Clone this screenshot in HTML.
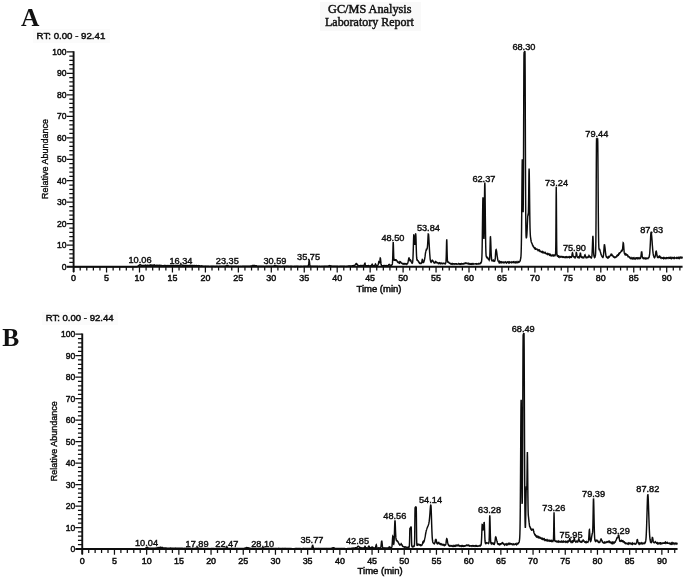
<!DOCTYPE html>
<html lang="en">
<head>
<meta charset="utf-8">
<title>GC/MS Analysis Laboratory Report</title>
<style>
html,body{margin:0;padding:0;background:#fff;}
body{width:685px;height:578px;overflow:hidden;}
svg{display:block;}
text.s{font-family:"Liberation Sans", Arial, sans-serif;fill:#0d0d0d;stroke:#0d0d0d;stroke-width:.38px;}
text.h{stroke-width:.45px;}
text.m{stroke-width:.36px;}
text.r{font-family:"Liberation Serif", "Times New Roman", serif;fill:#111;}
text.t{font-family:"Liberation Serif", "Times New Roman", serif;fill:#111;stroke:#111;stroke-width:.45px;}
</style>
</head>
<body>
<svg width="685" height="578" viewBox="0 0 685 578">
<rect x="0" y="0" width="685" height="578" fill="#fff"/>

<rect x="320" y="2" width="101" height="29" fill="#f9f9f9"/>
<rect x="33" y="29" width="77" height="14" fill="#fbfbfb"/>
<rect x="42" y="312" width="76" height="13" fill="#fbfbfb"/>
<text class="t" x="369.8" y="12.9" font-size="11.6" text-anchor="middle" textLength="83.4" lengthAdjust="spacingAndGlyphs">GC/MS Analysis</text>
<text class="t" x="369.4" y="25.7" font-size="11.6" text-anchor="middle" textLength="88.8" lengthAdjust="spacingAndGlyphs">Laboratory Report</text>
<text class="r" x="21.0" y="26.0" font-size="25.5" text-anchor="start" font-weight="bold" textLength="18.4" lengthAdjust="spacingAndGlyphs">A</text>
<text class="r" x="2.3" y="346.0" font-size="25.5" text-anchor="start" font-weight="bold" textLength="17.0" lengthAdjust="spacingAndGlyphs">B</text>
<path d="M73.60 51.20V271.90M67.00 266.70H682.58" stroke="#111" stroke-width="1.9" fill="none"/>
<path d="M66.70 266.70H73.60M69.30 262.40H73.60M69.30 258.10H73.60M69.30 253.81H73.60M69.30 249.51H73.60M66.70 245.21H73.60M69.30 240.91H73.60M69.30 236.61H73.60M69.30 232.32H73.60M69.30 228.02H73.60M66.70 223.72H73.60M69.30 219.42H73.60M69.30 215.12H73.60M69.30 210.83H73.60M69.30 206.53H73.60M66.70 202.23H73.60M69.30 197.93H73.60M69.30 193.63H73.60M69.30 189.34H73.60M69.30 185.04H73.60M66.70 180.74H73.60M69.30 176.44H73.60M69.30 172.14H73.60M69.30 167.85H73.60M69.30 163.55H73.60M66.70 159.25H73.60M69.30 154.95H73.60M69.30 150.65H73.60M69.30 146.36H73.60M69.30 142.06H73.60M66.70 137.76H73.60M69.30 133.46H73.60M69.30 129.16H73.60M69.30 124.87H73.60M69.30 120.57H73.60M66.70 116.27H73.60M69.30 111.97H73.60M69.30 107.67H73.60M69.30 103.38H73.60M69.30 99.08H73.60M66.70 94.78H73.60M69.30 90.48H73.60M69.30 86.18H73.60M69.30 81.89H73.60M69.30 77.59H73.60M66.70 73.29H73.60M69.30 68.99H73.60M69.30 64.69H73.60M69.30 60.40H73.60M69.30 56.10H73.60M66.70 51.80H73.60M73.60 266.70V272.50M80.19 266.70V270.60M86.78 266.70V270.60M93.37 266.70V270.60M99.96 266.70V270.60M106.55 266.70V272.50M113.14 266.70V270.60M119.73 266.70V270.60M126.32 266.70V270.60M132.91 266.70V270.60M139.50 266.70V272.50M146.09 266.70V270.60M152.68 266.70V270.60M159.27 266.70V270.60M165.86 266.70V270.60M172.45 266.70V272.50M179.04 266.70V270.60M185.63 266.70V270.60M192.22 266.70V270.60M198.81 266.70V270.60M205.40 266.70V272.50M211.99 266.70V270.60M218.58 266.70V270.60M225.17 266.70V270.60M231.76 266.70V270.60M238.35 266.70V272.50M244.94 266.70V270.60M251.53 266.70V270.60M258.12 266.70V270.60M264.71 266.70V270.60M271.30 266.70V272.50M277.89 266.70V270.60M284.48 266.70V270.60M291.07 266.70V270.60M297.66 266.70V270.60M304.25 266.70V272.50M310.84 266.70V270.60M317.43 266.70V270.60M324.02 266.70V270.60M330.61 266.70V270.60M337.20 266.70V272.50M343.79 266.70V270.60M350.38 266.70V270.60M356.97 266.70V270.60M363.56 266.70V270.60M370.15 266.70V272.50M376.74 266.70V270.60M383.33 266.70V270.60M389.92 266.70V270.60M396.51 266.70V270.60M403.10 266.70V272.50M409.69 266.70V270.60M416.28 266.70V270.60M422.87 266.70V270.60M429.46 266.70V270.60M436.05 266.70V272.50M442.64 266.70V270.60M449.23 266.70V270.60M455.82 266.70V270.60M462.41 266.70V270.60M469.00 266.70V272.50M475.59 266.70V270.60M482.18 266.70V270.60M488.77 266.70V270.60M495.36 266.70V270.60M501.95 266.70V272.50M508.54 266.70V270.60M515.13 266.70V270.60M521.72 266.70V270.60M528.31 266.70V270.60M534.90 266.70V272.50M541.49 266.70V270.60M548.08 266.70V270.60M554.67 266.70V270.60M561.26 266.70V270.60M567.85 266.70V272.50M574.44 266.70V270.60M581.03 266.70V270.60M587.62 266.70V270.60M594.21 266.70V270.60M600.80 266.70V272.50M607.39 266.70V270.60M613.98 266.70V270.60M620.57 266.70V270.60M627.16 266.70V270.60M633.75 266.70V272.50M640.34 266.70V270.60M646.93 266.70V270.60M653.52 266.70V270.60M660.11 266.70V270.60M666.70 266.70V272.50M673.29 266.70V270.60M679.88 266.70V270.60" stroke="#111" stroke-width="1.25" fill="none"/>
<text class="s h" x="66.5" y="269.7" font-size="8.3" text-anchor="end" textLength="4.8" lengthAdjust="spacingAndGlyphs">0</text>
<text class="s h" x="66.5" y="248.2" font-size="8.3" text-anchor="end" textLength="9.5" lengthAdjust="spacingAndGlyphs">10</text>
<text class="s h" x="66.5" y="226.7" font-size="8.3" text-anchor="end" textLength="9.5" lengthAdjust="spacingAndGlyphs">20</text>
<text class="s h" x="66.5" y="205.2" font-size="8.3" text-anchor="end" textLength="9.5" lengthAdjust="spacingAndGlyphs">30</text>
<text class="s h" x="66.5" y="183.7" font-size="8.3" text-anchor="end" textLength="9.5" lengthAdjust="spacingAndGlyphs">40</text>
<text class="s h" x="66.5" y="162.2" font-size="8.3" text-anchor="end" textLength="9.5" lengthAdjust="spacingAndGlyphs">50</text>
<text class="s h" x="66.5" y="140.8" font-size="8.3" text-anchor="end" textLength="9.5" lengthAdjust="spacingAndGlyphs">60</text>
<text class="s h" x="66.5" y="119.3" font-size="8.3" text-anchor="end" textLength="9.5" lengthAdjust="spacingAndGlyphs">70</text>
<text class="s h" x="66.5" y="97.8" font-size="8.3" text-anchor="end" textLength="9.5" lengthAdjust="spacingAndGlyphs">80</text>
<text class="s h" x="66.5" y="76.3" font-size="8.3" text-anchor="end" textLength="9.5" lengthAdjust="spacingAndGlyphs">90</text>
<text class="s h" x="66.5" y="54.8" font-size="8.3" text-anchor="end" textLength="14.2" lengthAdjust="spacingAndGlyphs">100</text>
<text class="s h" x="73.6" y="281.4" font-size="8.3" text-anchor="middle" textLength="5.0" lengthAdjust="spacingAndGlyphs">0</text>
<text class="s h" x="106.5" y="281.4" font-size="8.3" text-anchor="middle" textLength="5.0" lengthAdjust="spacingAndGlyphs">5</text>
<text class="s h" x="139.5" y="281.4" font-size="8.3" text-anchor="middle" textLength="9.9" lengthAdjust="spacingAndGlyphs">10</text>
<text class="s h" x="172.4" y="281.4" font-size="8.3" text-anchor="middle" textLength="9.9" lengthAdjust="spacingAndGlyphs">15</text>
<text class="s h" x="205.4" y="281.4" font-size="8.3" text-anchor="middle" textLength="9.9" lengthAdjust="spacingAndGlyphs">20</text>
<text class="s h" x="238.3" y="281.4" font-size="8.3" text-anchor="middle" textLength="9.9" lengthAdjust="spacingAndGlyphs">25</text>
<text class="s h" x="271.3" y="281.4" font-size="8.3" text-anchor="middle" textLength="9.9" lengthAdjust="spacingAndGlyphs">30</text>
<text class="s h" x="304.2" y="281.4" font-size="8.3" text-anchor="middle" textLength="9.9" lengthAdjust="spacingAndGlyphs">35</text>
<text class="s h" x="337.2" y="281.4" font-size="8.3" text-anchor="middle" textLength="9.9" lengthAdjust="spacingAndGlyphs">40</text>
<text class="s h" x="370.1" y="281.4" font-size="8.3" text-anchor="middle" textLength="9.9" lengthAdjust="spacingAndGlyphs">45</text>
<text class="s h" x="403.1" y="281.4" font-size="8.3" text-anchor="middle" textLength="9.9" lengthAdjust="spacingAndGlyphs">50</text>
<text class="s h" x="436.0" y="281.4" font-size="8.3" text-anchor="middle" textLength="9.9" lengthAdjust="spacingAndGlyphs">55</text>
<text class="s h" x="469.0" y="281.4" font-size="8.3" text-anchor="middle" textLength="9.9" lengthAdjust="spacingAndGlyphs">60</text>
<text class="s h" x="501.9" y="281.4" font-size="8.3" text-anchor="middle" textLength="9.9" lengthAdjust="spacingAndGlyphs">65</text>
<text class="s h" x="534.9" y="281.4" font-size="8.3" text-anchor="middle" textLength="9.9" lengthAdjust="spacingAndGlyphs">70</text>
<text class="s h" x="567.9" y="281.4" font-size="8.3" text-anchor="middle" textLength="9.9" lengthAdjust="spacingAndGlyphs">75</text>
<text class="s h" x="600.8" y="281.4" font-size="8.3" text-anchor="middle" textLength="9.9" lengthAdjust="spacingAndGlyphs">80</text>
<text class="s h" x="633.8" y="281.4" font-size="8.3" text-anchor="middle" textLength="9.9" lengthAdjust="spacingAndGlyphs">85</text>
<text class="s h" x="666.7" y="281.4" font-size="8.3" text-anchor="middle" textLength="9.9" lengthAdjust="spacingAndGlyphs">90</text>
<text class="s m" font-size="8.4" text-anchor="middle" textLength="80" lengthAdjust="spacingAndGlyphs" transform="translate(48.3 159.0) rotate(-90)">Relative Abundance</text>
<text class="s h" x="379.0" y="292.4" font-size="8.6" text-anchor="middle" textLength="45.0" lengthAdjust="spacingAndGlyphs">Time (min)</text>
<text class="s h" x="36.6" y="39.2" font-size="8.8" text-anchor="start" textLength="68.7" lengthAdjust="spacingAndGlyphs">RT: 0.00 - 92.41</text>
<path d="M73.60 266.70L75.18 266.70L76.76 266.70L78.34 266.70L79.93 266.70L81.51 266.70L83.09 266.70L84.67 266.70L86.25 266.70L87.83 266.70L89.42 266.70L91.00 266.70L92.58 266.70L94.16 266.70L95.74 266.70L97.32 266.70L98.91 266.70L100.49 266.70L102.07 266.70L103.65 266.70L105.23 266.70L106.81 266.70L108.40 266.70L109.98 266.70L111.56 266.70L113.14 266.70L114.72 266.70L116.30 266.70L117.88 266.70L119.47 266.70L121.05 266.70L122.63 266.70L124.21 266.70L125.79 266.70L127.37 266.70L128.96 266.70L130.54 266.70L132.12 266.70L133.70 266.69L135.28 266.69L136.86 266.68L137.13 266.56L137.39 266.43L137.65 266.29L138.05 266.11L138.18 266.00L138.31 265.84L138.45 265.79L138.58 265.60L138.97 265.45L139.10 265.37L139.24 265.08L139.37 264.87L139.76 264.82L139.90 264.69L140.29 264.67L140.42 264.88L140.55 264.97L140.69 265.10L140.95 265.15L141.08 265.29L141.35 265.30L141.48 265.46L141.74 265.31L142.79 265.45L143.32 265.39L143.45 265.55L145.04 265.46L145.30 265.30L145.43 265.45L145.69 265.38L145.83 265.51L146.35 265.52L146.49 265.37L146.88 265.31L147.01 265.43L147.41 265.23L148.86 265.42L149.52 265.24L150.31 265.10L150.57 265.21L150.70 265.06L151.63 265.24L151.76 265.25L151.89 265.09L152.55 265.23L154.00 265.11L154.13 265.23L154.53 265.31L154.66 265.12L154.92 265.30L155.71 265.43L155.84 265.30L156.37 265.17L156.63 265.36L157.69 265.31L157.82 265.47L158.08 265.61L158.48 265.69L158.61 265.56L158.74 265.43L158.87 265.52L159.01 265.39L159.53 265.30L159.67 265.49L160.06 265.41L160.19 265.55L161.64 265.42L162.30 265.61L163.88 265.68L164.15 265.56L165.07 265.43L165.73 265.59L165.99 265.67L166.12 265.53L166.52 265.69L167.71 265.73L167.84 265.57L169.02 265.69L169.15 265.75L169.29 265.61L169.55 265.76L169.68 265.59L171.00 265.46L171.40 265.58L172.98 265.73L173.24 265.59L173.90 265.67L174.03 265.53L174.43 265.71L174.69 265.76L174.82 265.61L175.22 265.43L175.75 265.57L176.14 265.41L176.54 265.56L176.80 265.43L177.06 265.48L177.19 265.61L178.78 265.50L179.04 265.64L179.57 265.62L179.70 265.45L179.83 265.35L179.96 265.20L180.23 265.03L180.49 265.20L181.02 265.06L181.81 264.97L181.94 265.11L182.20 265.17L182.33 265.36L182.86 265.52L183.13 265.65L183.52 265.46L183.78 265.41L183.92 265.60L184.18 265.77L185.76 265.75L186.16 265.55L186.55 265.72L186.82 265.58L187.48 265.73L187.87 265.61L189.19 265.77L189.45 265.57L190.37 265.56L190.51 265.68L191.30 265.52L191.43 265.55L191.56 265.71L192.35 265.58L192.48 265.71L193.14 265.53L193.41 265.68L194.46 265.55L194.72 265.68L195.12 265.81L195.25 265.66L195.51 265.79L196.17 265.62L196.44 265.58L196.57 265.73L196.70 265.76L196.83 265.64L197.10 265.78L197.76 265.83L197.89 265.68L198.28 265.74L198.41 265.62L198.94 265.82L199.60 265.69L199.73 265.83L200.79 265.96L201.97 265.83L202.10 265.96L202.90 266.16L204.48 266.14L205.14 266.27L205.53 266.41L205.66 266.29L207.25 266.30L208.83 266.18L209.49 266.35L210.94 266.18L211.46 266.34L212.39 266.22L213.97 266.33L215.55 266.43L215.81 266.28L217.39 266.24L218.18 266.40L219.50 266.27L221.08 266.34L222.67 266.28L224.25 266.30L225.17 266.17L225.43 266.04L226.22 266.03L226.36 265.87L226.49 265.88L226.62 265.75L226.75 265.62L226.88 265.71L227.02 265.58L227.41 265.70L228.07 265.61L228.20 265.78L228.60 265.97L229.12 266.10L229.39 266.23L230.97 266.27L232.55 266.25L234.13 266.25L235.71 266.32L236.24 266.18L236.77 266.35L238.35 266.34L239.93 266.38L240.46 266.22L240.85 266.36L242.44 266.29L244.02 266.22L245.60 266.27L247.18 266.20L248.76 266.19L250.34 266.22L250.48 266.09L250.74 266.05L250.87 265.92L252.19 265.78L252.32 265.62L252.45 265.69L252.58 265.57L253.11 265.44L254.69 265.42L254.96 265.60L256.41 265.74L256.67 265.93L257.72 266.10L258.78 266.23L260.36 266.28L261.94 266.29L263.52 266.27L265.11 266.35L265.50 266.20L265.90 266.33L267.48 266.27L269.06 266.33L270.64 266.26L272.22 266.19L273.54 266.12L273.67 266.00L273.94 266.07L274.07 265.91L274.33 265.89L274.46 265.74L274.73 265.84L274.86 265.69L275.12 265.78L275.25 265.66L275.78 265.82L276.31 265.96L277.10 266.04L277.23 266.18L277.63 266.33L277.89 266.18L278.42 266.30L280.00 266.29L281.58 266.40L282.50 266.28L284.08 266.31L285.67 266.26L286.19 266.38L286.59 266.23L286.85 266.16L286.98 266.29L288.57 266.25L288.83 266.39L290.02 266.26L291.60 266.29L293.18 266.37L294.37 266.24L294.63 266.37L295.29 266.22L295.68 266.38L296.21 266.25L297.79 266.31L299.37 266.40L300.30 266.25L300.95 266.39L301.88 266.24L302.27 266.37L303.85 266.29L305.44 266.33L306.23 266.17L307.02 266.33L307.81 266.16L308.07 266.02L308.20 265.84L308.34 265.71L308.47 265.29L308.60 264.60L308.73 263.66L308.86 262.46L308.99 261.27L309.13 260.62L309.26 260.48L309.39 261.14L309.52 262.35L309.65 263.49L309.79 264.39L309.92 265.08L310.05 265.65L310.18 265.97L310.31 266.09L310.44 266.21L312.03 266.15L312.95 266.31L314.53 266.30L316.11 266.31L317.69 266.23L318.88 266.35L319.41 266.23L320.86 266.35L322.17 266.23L322.83 266.36L323.89 266.22L324.68 266.18L324.81 266.30L326.39 266.28L327.97 266.24L328.11 266.12L328.76 266.02L328.90 265.88L329.03 265.94L329.16 265.80L329.42 265.67L329.69 265.79L331.27 265.92L331.40 266.01L331.53 266.14L332.06 266.29L332.59 266.15L333.25 266.32L333.64 266.19L334.04 266.33L335.49 266.18L336.15 266.32L337.73 266.24L338.52 266.36L340.10 266.30L341.68 266.30L343.26 266.30L344.84 266.24L345.77 266.37L346.29 266.22L346.56 266.37L347.35 266.24L348.80 266.08L349.19 266.19L349.33 266.06L350.64 265.87L352.23 265.69L352.36 265.82L352.49 265.85L352.62 265.71L353.41 265.78L353.54 265.63L353.67 265.64L353.81 265.51L354.33 265.51L354.47 265.33L354.86 265.27L354.99 264.96L355.26 264.78L355.39 264.62L355.52 264.43L355.65 264.31L355.78 264.01L356.05 263.96L356.18 263.77L356.31 263.91L356.44 264.05L356.57 263.92L356.71 264.08L356.97 264.07L357.10 264.33L357.23 264.54L357.37 264.80L357.50 264.77L357.63 264.93L357.76 265.09L357.89 265.27L358.16 265.32L358.29 265.49L358.95 265.62L360.00 265.75L360.26 265.62L360.53 265.73L360.66 265.61L360.92 265.74L361.06 265.61L361.32 265.57L361.45 265.71L362.11 265.58L362.24 265.72L363.16 265.56L364.09 265.45L364.22 265.23L364.35 264.94L364.48 264.52L364.61 263.72L364.75 263.31L365.01 263.19L365.14 263.74L365.27 264.30L365.41 264.91L365.54 265.36L365.67 265.57L366.46 265.70L366.86 265.82L367.65 265.79L367.78 265.66L368.57 265.61L368.70 265.73L368.96 265.86L369.10 265.81L369.23 265.68L369.89 265.84L370.68 265.63L371.34 265.54L371.47 265.41L371.60 265.16L371.73 264.81L371.86 264.55L372.00 264.21L372.26 264.10L372.39 264.43L372.52 264.83L372.65 265.20L372.79 265.47L372.92 265.63L374.50 265.66L374.63 265.57L374.76 265.29L374.89 265.01L375.03 264.73L375.16 264.43L375.29 264.14L375.42 263.99L375.55 264.29L375.69 264.36L375.82 264.71L375.95 265.06L376.08 265.16L376.21 265.31L376.34 265.50L376.48 265.68L377.27 265.66L377.40 265.53L377.66 265.43L377.79 265.19L377.93 265.02L378.06 264.86L378.19 264.52L378.32 264.18L378.45 263.58L378.59 262.75L378.72 262.00L378.85 261.60L379.11 261.73L379.24 261.96L379.38 262.14L379.51 262.12L379.64 262.28L379.77 261.74L379.90 260.89L380.03 259.67L380.17 258.46L380.30 257.98L380.43 258.08L380.56 259.15L380.69 260.51L380.83 261.89L380.96 263.41L381.09 264.27L381.22 264.87L381.35 265.30L381.48 265.51L381.88 265.66L383.33 265.73L383.46 265.60L383.59 265.53L383.73 265.67L384.78 265.52L385.70 265.72L386.36 265.56L386.89 265.69L388.07 265.50L388.21 265.53L388.34 265.31L388.47 265.22L388.60 265.09L388.73 264.85L388.87 264.68L389.26 264.51L389.39 264.69L389.66 264.75L389.79 265.02L389.92 265.24L390.05 265.22L390.18 265.38L390.71 265.53L390.84 265.47L390.97 265.61L391.11 265.49L391.24 265.53L391.37 265.38L391.50 265.33L391.63 265.13L391.77 265.05L391.90 264.87L392.03 264.76L392.16 264.40L392.29 263.96L392.42 263.40L392.56 261.77L392.69 258.82L392.82 254.80L392.95 249.65L393.08 244.52L393.22 242.15L393.35 244.12L393.48 248.26L393.61 252.88L393.74 256.92L393.87 259.03L394.01 260.22L394.27 260.35L394.53 260.31L394.66 260.01L394.80 259.79L394.93 259.88L395.06 260.06L395.32 260.17L395.46 259.81L395.85 259.79L395.98 260.23L396.11 260.40L396.51 260.27L396.64 260.40L396.77 260.59L396.91 260.73L397.04 260.78L397.17 261.14L397.30 261.62L397.43 261.81L397.56 262.13L397.83 262.15L397.96 262.32L398.09 262.46L398.22 262.66L398.62 262.54L398.75 262.33L398.88 262.65L399.01 262.74L399.15 262.87L399.28 262.48L399.54 262.25L399.67 262.06L399.80 262.35L399.94 262.01L400.33 262.05L400.46 261.92L400.60 262.13L400.73 262.32L400.86 262.51L400.99 262.43L401.12 262.59L401.25 262.90L401.39 263.04L401.52 263.08L401.65 263.24L402.18 263.31L402.31 263.54L402.57 263.39L402.70 263.53L402.84 263.81L402.97 263.96L403.10 263.79L403.23 263.65L403.63 263.74L403.76 263.94L403.89 263.87L404.02 263.67L404.15 263.87L404.42 263.72L404.55 263.74L404.68 263.87L404.81 263.99L404.95 263.88L405.08 263.74L405.21 263.68L405.34 263.83L405.60 263.74L405.74 263.88L406.00 263.93L406.13 264.06L406.26 264.22L406.39 264.04L406.53 263.91L406.66 264.09L407.05 264.10L407.19 263.84L407.32 263.84L407.45 263.60L407.58 263.34L407.71 263.13L407.84 262.55L407.98 262.17L408.11 261.63L408.24 260.92L408.37 260.34L408.50 259.84L408.64 258.88L408.77 258.27L408.90 257.98L409.16 257.95L409.29 258.39L409.43 259.02L409.56 259.27L409.69 259.45L409.82 260.11L409.95 260.05L410.09 260.34L410.22 260.10L410.35 260.04L410.48 260.26L410.61 260.46L410.74 260.32L410.88 260.36L411.01 260.69L411.14 261.20L411.27 261.71L411.40 262.02L411.54 262.30L411.67 262.47L411.80 262.89L412.19 262.87L412.33 263.08L412.46 262.96L412.59 262.33L412.72 261.49L412.85 259.79L412.99 257.55L413.12 254.34L413.25 250.58L413.38 245.92L413.51 241.21L413.64 237.26L413.78 235.00L413.91 235.05L414.04 236.41L414.17 238.31L414.30 240.87L414.43 242.86L414.57 244.06L414.70 244.30L414.83 244.31L414.96 243.49L415.09 242.06L415.23 240.06L415.36 238.09L415.49 235.65L415.62 234.01L415.75 234.07L415.88 235.97L416.02 239.56L416.15 244.10L416.28 248.48L416.41 252.50L416.54 255.81L416.68 257.96L416.81 258.91L416.94 259.74L417.07 260.08L417.47 259.97L417.60 260.14L417.73 260.27L417.86 260.65L417.99 260.94L418.13 261.18L418.39 261.31L418.52 261.73L418.65 261.75L418.78 262.13L418.92 262.29L419.05 262.65L419.18 262.68L419.31 262.93L419.44 262.73L419.57 262.94L419.71 262.88L419.84 263.05L419.97 263.29L420.10 263.21L420.23 263.41L420.50 263.39L420.63 263.21L420.76 263.23L420.89 263.51L421.02 263.50L421.16 263.25L421.29 263.08L421.55 263.04L421.68 262.70L421.82 261.87L421.95 261.31L422.08 260.25L422.21 259.81L422.34 259.43L422.47 259.54L422.61 260.30L422.74 260.98L422.87 261.57L423.00 262.24L423.13 262.50L423.27 262.49L423.40 262.26L423.66 262.37L423.79 262.05L423.92 261.65L424.06 261.28L424.19 260.61L424.32 260.37L424.45 259.79L424.58 259.16L424.72 258.62L424.85 257.81L424.98 256.96L425.11 256.13L425.24 255.03L425.37 253.89L425.51 252.86L425.64 252.33L425.77 251.64L425.90 250.65L426.03 250.35L426.16 250.02L426.30 249.77L426.43 249.11L426.69 249.04L426.82 249.30L426.96 249.01L427.09 248.65L427.22 248.29L427.35 247.40L427.48 246.24L427.61 244.63L427.75 242.50L427.88 239.92L428.01 237.40L428.14 235.15L428.27 233.97L428.41 234.00L428.54 234.49L428.67 235.67L428.80 237.39L428.93 239.74L429.06 242.17L429.20 244.62L429.33 246.95L429.46 249.51L429.59 251.73L429.72 253.72L429.86 255.32L429.99 257.01L430.12 258.58L430.25 259.57L430.38 260.10L430.51 260.95L430.65 261.30L430.78 261.83L430.91 262.09L431.04 262.02L431.17 262.23L431.31 262.08L431.44 261.81L431.57 261.65L431.70 261.23L431.83 260.80L431.96 260.76L432.10 260.40L432.23 260.14L432.49 260.14L432.62 260.29L432.75 260.41L432.89 260.65L433.02 261.18L433.15 261.40L433.28 261.62L433.41 261.97L433.55 262.01L433.68 262.40L433.81 262.54L434.07 262.67L434.20 262.91L434.34 262.80L434.47 263.00L434.73 262.83L434.86 262.63L435.00 262.38L435.13 262.10L435.26 262.27L435.39 261.95L435.65 261.87L435.79 262.06L435.92 261.71L436.05 261.87L436.18 261.99L436.31 262.10L436.45 262.28L436.58 262.42L436.71 262.57L436.84 262.64L436.97 262.79L437.24 262.62L437.37 262.59L437.50 262.86L437.90 262.89L438.03 263.05L438.16 263.27L438.29 263.14L438.42 263.10L438.55 263.23L438.69 263.16L438.82 263.40L438.95 263.22L439.08 263.07L439.21 262.94L439.35 263.26L439.61 263.12L439.74 263.36L439.87 263.30L440.00 263.45L440.14 263.54L440.27 263.67L440.40 263.65L440.53 263.38L440.79 263.23L440.93 263.09L441.06 263.37L441.19 263.23L441.45 263.19L441.59 263.36L441.72 263.53L442.11 263.62L442.24 263.49L442.38 263.43L442.51 263.56L442.77 263.61L442.90 263.48L443.30 263.29L443.43 263.28L443.56 263.41L443.83 263.32L443.96 263.46L444.09 263.62L444.22 263.62L444.35 263.48L444.49 263.37L444.62 263.50L444.75 263.47L444.88 263.64L445.01 263.50L445.14 263.47L445.28 263.30L445.41 263.12L445.54 263.32L445.67 262.95L445.80 262.88L445.93 261.92L446.07 260.20L446.20 257.57L446.33 253.03L446.46 247.35L446.59 241.76L446.73 239.40L446.86 241.30L446.99 246.39L447.12 252.32L447.25 256.77L447.38 259.76L447.52 261.29L447.65 261.89L447.78 261.94L447.91 262.14L448.31 261.99L448.44 262.13L448.57 262.28L448.70 262.34L448.83 262.48L448.97 262.47L449.10 262.83L449.23 263.05L449.36 263.29L450.15 263.25L450.28 263.51L450.42 263.71L450.55 263.72L450.68 263.85L450.81 263.80L450.94 263.98L451.08 263.96L451.21 263.83L451.47 264.05L451.60 263.88L451.73 263.99L451.87 263.79L452.13 263.67L452.39 263.80L452.52 263.93L452.66 264.08L452.79 263.83L452.92 263.96L453.05 264.09L453.18 263.84L453.45 263.83L453.58 263.69L453.71 263.68L453.84 263.85L454.24 263.80L454.37 263.95L454.63 263.96L454.77 264.11L454.90 263.90L455.03 263.83L455.16 263.99L455.42 263.87L455.56 264.04L455.69 264.01L455.82 263.85L456.08 263.80L456.22 263.94L456.35 263.73L456.61 263.77L456.74 264.01L456.87 264.02L457.01 264.16L457.93 264.04L458.19 264.01L458.32 263.79L458.59 263.62L458.72 263.88L458.85 263.83L458.98 263.95L459.12 263.76L459.51 263.71L459.64 263.92L459.77 264.07L459.91 263.88L460.17 263.84L460.30 264.04L460.43 264.17L460.56 263.94L461.09 263.73L461.22 263.99L461.36 263.85L461.49 263.68L461.75 263.57L461.88 263.72L462.01 263.74L462.15 263.94L462.28 263.80L462.54 263.84L462.67 264.02L462.94 264.02L463.07 263.77L463.20 263.80L463.33 263.65L463.46 263.82L463.86 263.92L463.99 263.70L464.26 263.74L464.39 263.59L464.52 263.58L464.65 263.37L464.91 263.18L465.18 263.32L465.31 263.31L465.44 263.05L465.57 262.89L465.84 263.02L465.97 263.25L466.10 263.02L466.36 263.08L466.50 263.24L466.76 263.09L466.89 263.24L467.29 263.32L467.42 263.56L467.55 263.69L467.68 263.65L467.81 263.50L467.95 263.57L468.08 263.78L468.34 263.88L468.47 263.69L468.60 263.82L468.74 263.59L468.87 263.75L469.00 263.89L469.13 264.05L469.40 263.90L469.53 263.77L469.79 263.77L469.92 263.98L470.05 263.77L470.19 263.91L470.45 264.08L470.71 263.87L470.98 264.02L471.11 264.16L471.24 264.01L471.37 263.88L471.50 264.03L471.64 264.08L471.77 263.90L471.90 263.82L472.03 263.99L472.16 263.76L472.43 263.71L472.56 263.85L472.69 263.69L472.95 263.78L473.09 263.64L473.22 263.61L473.35 263.85L473.48 264.01L473.74 264.15L473.88 263.90L474.80 263.89L474.93 263.75L475.19 263.62L475.33 263.63L475.46 263.87L475.59 263.91L475.72 263.77L475.99 263.86L476.12 263.99L476.25 263.82L476.51 263.95L476.64 263.80L476.78 263.99L476.91 264.14L477.17 264.02L477.44 264.06L477.57 263.89L477.70 263.73L477.96 263.61L478.09 263.89L478.49 263.95L478.62 263.74L478.75 263.81L478.88 263.65L479.68 263.85L479.81 263.73L480.07 263.69L480.20 263.42L480.33 263.07L480.47 263.08L480.60 263.24L480.73 262.94L480.99 263.00L481.13 262.61L481.26 262.18L481.39 262.07L481.52 261.51L481.65 260.37L481.78 258.84L481.92 256.29L482.05 252.25L482.18 246.28L482.31 237.70L482.44 227.61L482.58 217.20L482.71 207.21L482.84 200.22L482.97 197.25L483.10 199.71L483.23 206.27L483.37 215.44L483.50 225.17L483.63 232.96L483.76 237.73L483.89 238.99L484.03 235.90L484.16 228.58L484.29 217.88L484.42 205.55L484.55 194.20L484.68 185.61L484.82 182.43L484.95 185.69L485.08 194.09L485.21 205.49L485.34 218.11L485.48 229.76L485.61 239.20L485.74 246.52L485.87 251.23L486.00 254.07L486.13 255.62L486.27 256.33L486.40 256.88L486.53 257.04L486.66 257.15L486.79 257.47L486.92 257.32L487.06 257.19L487.19 257.37L487.32 257.56L487.45 257.94L487.58 258.08L487.72 258.26L487.85 258.49L487.98 258.30L488.11 258.58L488.24 258.90L488.37 258.90L488.51 259.33L488.64 259.46L488.90 259.39L489.03 259.67L489.17 260.00L489.30 259.66L489.43 260.01L489.56 259.43L489.69 258.04L489.82 255.16L489.96 251.19L490.09 245.96L490.22 240.59L490.35 237.05L490.48 236.98L490.62 238.45L490.75 241.57L490.88 245.24L491.01 249.29L491.14 252.67L491.27 255.29L491.41 257.68L491.54 258.88L491.67 260.02L491.80 260.43L491.93 260.50L492.06 260.76L492.20 260.60L492.33 260.75L492.46 260.78L492.59 260.48L492.72 260.45L492.86 260.71L492.99 260.79L493.12 260.61L493.25 260.62L493.38 260.79L493.51 260.49L493.65 260.62L493.78 260.41L493.91 260.63L494.04 260.91L494.17 260.98L494.31 260.83L494.44 260.71L494.57 260.79L494.70 260.92L494.83 260.63L494.96 260.27L495.10 259.47L495.23 258.56L495.36 257.13L495.49 254.86L495.62 252.77L495.76 251.23L495.89 249.91L496.02 249.74L496.15 249.60L496.28 249.91L496.41 250.38L496.55 251.22L496.68 252.13L496.81 252.89L496.94 254.05L497.07 255.28L497.21 256.37L497.34 256.91L497.47 257.90L497.60 258.87L497.73 259.39L497.86 260.12L498.00 260.54L498.13 260.71L498.26 261.21L498.39 261.46L498.79 261.44L498.92 261.95L499.05 261.75L499.18 261.86L499.31 262.17L499.45 261.89L499.58 262.22L499.71 261.94L499.84 262.30L499.97 262.50L500.10 262.40L500.24 262.27L500.37 262.21L500.50 262.05L500.63 262.34L500.76 262.18L500.90 262.31L501.03 262.04L501.29 262.04L501.42 262.34L501.55 262.09L501.69 262.28L501.82 262.44L501.95 262.42L502.08 262.22L502.21 262.34L502.48 262.27L502.61 262.42L502.74 262.58L502.87 262.52L503.00 262.32L503.14 262.22L503.27 262.41L503.40 262.28L503.53 262.11L503.66 262.08L503.80 262.35L503.93 262.58L504.06 262.22L504.19 262.15L504.32 262.34L504.45 262.20L504.72 262.18L504.85 262.32L505.38 262.46L505.51 262.31L505.64 262.13L505.77 262.33L505.90 262.57L506.04 262.62L506.17 262.37L506.30 262.44L506.43 262.67L506.56 262.36L506.69 262.39L506.83 262.61L506.96 262.37L507.09 262.36L507.22 262.17L507.49 262.00L507.62 261.93L507.75 262.16L508.14 262.18L508.28 262.40L508.41 262.31L508.54 262.56L508.67 262.28L508.80 262.48L508.94 262.39L509.07 262.19L509.33 262.00L509.46 262.18L509.59 262.48L509.73 262.16L509.86 262.34L509.99 262.15L510.12 262.28L510.52 262.30L510.65 262.17L510.78 262.19L510.91 262.43L511.04 262.38L511.18 262.58L511.31 262.29L511.44 262.49L511.84 262.45L511.97 262.19L512.10 262.09L512.23 262.28L512.36 262.34L512.49 262.21L512.76 262.21L512.89 262.35L513.15 262.27L513.28 262.08L513.42 262.26L513.55 262.12L513.68 262.36L513.94 262.55L514.08 262.23L514.21 262.49L514.47 262.47L514.60 262.30L514.73 262.22L514.87 262.47L515.00 262.47L515.13 262.29L515.26 262.50L515.39 262.63L515.53 262.33L515.66 262.60L515.92 262.72L516.05 262.38L516.45 262.36L516.58 262.13L516.71 262.45L516.98 262.52L517.11 262.36L517.24 262.54L517.50 262.38L517.63 262.58L517.90 262.49L518.03 262.08L518.16 262.33L518.29 262.39L518.42 262.17L518.56 262.23L518.69 262.07L518.82 262.09L518.95 261.73L519.22 261.84L519.35 261.98L519.48 261.88L519.61 261.62L519.74 261.48L519.87 261.20L520.01 261.04L520.14 260.59L520.27 260.50L520.40 259.75L520.53 259.14L520.67 258.58L520.80 257.99L520.93 256.72L521.06 254.72L521.19 251.46L521.32 246.11L521.46 237.94L521.59 227.04L521.72 213.23L521.85 197.35L521.98 181.68L522.12 168.34L522.25 159.93L522.38 159.38L522.51 165.71L522.64 177.65L522.77 191.32L522.91 203.53L523.04 211.39L523.17 211.40L523.30 201.51L523.43 180.65L523.57 149.37L523.70 111.75L523.83 76.93L523.96 55.48L524.09 52.75L524.22 52.75L524.36 52.22L524.49 51.76L524.62 51.47L524.75 51.21L524.88 50.94L525.01 53.50L525.15 74.75L525.28 109.48L525.41 147.72L525.54 181.43L525.67 206.48L525.81 222.47L525.94 231.28L526.07 235.92L526.20 237.48L526.33 237.83L526.46 237.76L526.60 237.24L526.73 235.87L526.86 234.75L526.99 232.79L527.12 230.25L527.26 226.82L527.39 223.56L527.52 220.62L527.65 217.96L527.78 216.05L527.91 215.27L528.05 215.50L528.18 215.33L528.31 214.25L528.44 210.93L528.57 203.98L528.71 194.08L528.84 182.29L528.97 172.20L529.10 168.63L529.23 171.84L529.36 179.84L529.50 190.82L529.63 202.04L529.76 212.88L529.89 221.35L530.02 227.69L530.16 231.73L530.29 234.42L530.42 236.32L530.55 237.28L530.68 238.20L530.81 239.15L530.95 240.26L531.08 240.87L531.21 241.74L531.34 242.05L531.47 242.34L531.61 242.85L531.74 242.99L531.87 243.27L532.00 243.67L532.13 243.78L532.26 244.21L532.40 244.68L532.53 245.12L532.66 245.17L532.79 245.49L532.92 245.85L533.05 246.24L533.19 246.21L533.32 246.68L533.58 246.71L533.71 246.88L533.85 247.42L533.98 247.43L534.11 247.72L534.24 247.86L534.37 247.83L534.50 248.17L534.64 248.37L534.77 248.22L534.90 248.49L535.03 248.79L535.16 249.03L535.30 248.91L535.43 249.00L535.56 248.72L535.69 249.11L535.82 249.14L535.95 249.02L536.61 248.88L536.75 248.93L536.88 249.13L537.01 249.38L537.14 249.49L537.27 249.76L537.40 249.92L537.80 250.04L537.93 250.29L538.06 249.96L538.19 250.15L538.33 250.21L538.46 250.34L538.72 250.23L538.85 250.10L538.99 250.24L539.12 250.16L539.25 250.45L539.38 250.60L539.51 250.79L539.64 250.57L539.78 250.94L539.91 251.13L540.04 250.97L540.17 251.19L540.30 251.45L540.70 251.45L540.83 251.61L541.09 251.76L541.23 251.91L541.36 251.83L541.49 251.97L541.62 252.08L541.75 251.75L541.89 251.60L542.02 251.81L542.15 251.87L542.28 252.17L542.41 252.41L542.54 252.30L542.68 252.00L542.81 252.33L542.94 252.34L543.07 252.17L543.20 252.53L543.34 252.44L543.47 252.58L543.60 252.41L543.73 252.29L543.99 252.23L544.13 252.65L544.39 252.65L544.52 252.84L544.65 253.03L545.05 253.09L545.18 252.83L545.31 253.10L545.44 252.93L545.58 253.24L546.10 253.38L546.23 253.61L546.50 253.70L546.63 253.83L546.76 253.56L547.16 253.51L547.29 253.83L547.42 254.12L547.55 254.27L547.68 253.93L547.82 253.97L547.95 253.74L548.08 253.98L548.21 254.11L548.34 254.06L548.48 253.94L548.61 254.12L548.74 254.22L548.87 254.36L549.00 254.54L549.13 254.29L549.27 254.15L549.40 254.36L549.53 254.66L549.66 254.46L549.79 254.58L549.93 254.51L550.06 254.67L550.19 254.98L550.32 254.81L550.45 255.08L550.58 254.80L550.72 255.08L550.85 255.17L550.98 255.43L551.11 255.49L551.24 255.30L551.38 255.52L551.64 255.73L551.77 255.83L551.90 255.62L552.03 255.67L552.17 255.41L552.43 255.34L552.56 255.14L552.69 255.01L552.82 255.30L553.09 255.24L553.22 255.54L553.35 255.39L553.48 255.74L553.62 255.59L553.75 255.38L554.01 255.41L554.14 255.28L554.27 255.43L554.41 255.68L554.67 255.69L554.80 255.41L554.93 255.17L555.07 254.94L555.20 255.09L555.33 254.77L555.46 254.34L555.59 253.74L555.72 250.18L555.86 240.62L555.99 221.74L556.12 198.47L556.25 186.84L556.38 198.46L556.52 221.68L556.65 240.68L556.78 250.43L556.91 254.19L557.04 255.35L557.17 255.87L557.31 255.99L557.44 255.71L557.57 256.02L557.97 255.82L558.10 255.82L558.23 256.24L558.36 256.52L558.49 256.31L558.76 256.18L558.89 256.58L559.02 256.38L559.15 256.51L559.28 256.38L559.41 256.43L559.55 256.60L559.68 256.61L559.81 256.90L559.94 256.58L560.07 256.43L560.47 256.50L560.60 256.66L560.73 256.88L560.86 256.79L561.00 256.56L561.26 256.50L561.39 256.85L561.52 256.98L561.79 256.98L561.92 256.73L562.31 256.88L562.45 257.09L562.58 257.16L562.71 256.81L562.84 256.64L563.11 256.69L563.24 256.95L563.37 257.23L563.50 257.39L563.76 257.46L563.90 257.00L564.03 256.95L564.16 257.13L564.29 257.30L564.42 257.45L565.08 257.43L565.21 257.20L565.35 257.34L565.48 257.42L565.61 257.12L565.74 257.21L565.87 257.07L566.00 257.18L566.14 257.02L566.27 257.31L566.40 257.34L566.53 257.03L566.66 257.16L566.80 257.05L566.93 257.22L567.06 257.39L567.32 257.24L567.45 257.44L567.59 257.29L567.85 257.28L567.98 257.06L568.11 256.87L568.25 257.02L568.38 257.17L568.51 257.00L568.90 256.98L569.04 257.13L569.17 257.00L569.30 257.01L569.43 256.86L569.56 257.08L569.70 257.35L569.83 257.06L569.96 257.05L570.09 256.92L570.35 256.83L570.49 257.03L570.62 256.87L570.75 256.91L570.88 257.05L571.01 257.26L571.14 257.42L571.41 257.30L571.54 257.11L571.67 256.64L571.80 255.87L571.94 255.23L572.07 254.36L572.20 253.84L572.33 252.99L572.46 252.71L572.59 252.83L572.73 253.67L572.86 254.46L572.99 255.34L573.12 255.90L573.25 256.50L573.39 256.65L573.52 256.70L573.65 256.90L573.78 257.04L574.04 257.08L574.18 256.88L574.31 256.77L574.44 256.96L574.57 256.96L574.70 257.29L574.84 257.04L574.97 257.04L575.10 257.36L575.23 257.53L575.36 257.10L575.49 256.76L575.63 256.43L575.76 256.01L575.89 255.41L576.02 254.43L576.15 253.22L576.29 252.47L576.42 252.51L576.55 252.91L576.68 253.80L576.81 254.40L576.94 255.14L577.08 255.74L577.21 256.46L577.34 256.96L577.47 257.39L577.60 257.52L578.00 257.54L578.13 257.34L578.26 257.14L578.39 257.30L578.53 257.14L578.66 257.34L578.79 257.48L578.92 257.25L579.05 257.51L579.18 257.64L579.32 257.15L579.45 257.04L579.58 256.81L579.71 256.16L579.84 255.31L579.98 254.66L580.11 253.68L580.24 253.30L580.37 252.80L580.50 253.19L580.63 253.96L580.77 255.09L580.90 256.07L581.03 256.65L581.16 257.23L581.29 257.28L581.43 257.11L581.56 257.39L582.08 257.23L582.22 257.35L582.35 257.22L582.48 257.53L582.74 257.44L582.88 257.64L583.01 257.74L583.14 257.40L583.53 257.46L583.67 257.26L583.80 257.23L583.93 257.39L584.06 257.01L584.19 256.70L584.32 256.37L584.46 256.02L584.59 255.63L584.72 255.44L584.85 254.91L584.98 254.80L585.12 255.23L585.25 255.36L585.38 255.88L585.51 256.58L585.64 256.67L585.77 257.17L585.91 257.39L586.04 257.72L586.30 257.64L586.43 257.45L586.57 257.27L586.83 257.27L586.96 257.47L587.09 257.28L587.22 257.56L587.62 257.60L587.75 257.45L588.15 257.38L588.28 257.00L588.41 256.75L588.54 256.18L588.81 256.03L588.94 255.70L589.07 255.91L589.20 255.81L589.33 256.06L589.47 256.55L589.73 256.62L589.86 257.05L589.99 257.20L590.12 257.32L590.26 257.17L590.39 257.06L590.52 257.50L590.65 257.59L590.78 257.39L591.18 257.41L591.31 257.66L591.44 257.75L591.57 257.21L591.71 256.97L591.84 256.42L591.97 255.36L592.10 253.55L592.23 250.87L592.36 247.86L592.50 243.85L592.63 240.28L592.76 237.23L592.89 235.90L593.02 237.06L593.16 240.08L593.29 243.73L593.42 247.33L593.55 250.52L593.68 253.13L593.81 254.97L593.95 255.85L594.08 256.42L594.21 256.96L594.34 257.17L594.47 256.78L594.61 256.69L594.74 256.93L594.87 256.61L595.00 256.34L595.13 256.47L595.26 255.84L595.40 255.56L595.53 254.38L595.66 251.62L595.79 245.92L595.92 234.96L596.06 216.74L596.19 191.81L596.32 164.72L596.45 144.30L596.58 138.87L596.71 138.88L596.85 139.11L596.98 139.27L597.11 139.02L597.24 138.83L597.37 139.01L597.50 138.77L597.64 138.79L597.77 142.02L597.90 154.56L598.03 173.07L598.16 193.58L598.30 212.06L598.43 226.65L598.56 236.86L598.69 243.46L598.82 246.73L598.95 248.72L599.09 249.33L599.22 249.73L599.35 249.71L599.48 249.44L599.75 249.44L599.88 249.90L600.01 250.41L600.14 251.14L600.27 251.63L600.40 251.90L600.54 252.58L600.67 252.88L600.80 253.54L600.93 253.80L601.06 254.44L601.20 254.51L601.33 255.13L601.46 255.62L601.72 255.75L601.85 256.14L601.99 256.43L602.12 256.48L602.25 256.85L602.38 257.03L602.51 257.19L602.65 257.34L602.78 257.52L602.91 257.50L603.04 257.20L603.17 256.80L603.30 256.42L603.44 255.55L603.57 254.55L603.70 252.88L603.83 251.41L603.96 249.19L604.10 247.05L604.23 245.52L604.36 244.62L604.49 244.37L604.62 245.09L604.75 246.03L604.89 246.90L605.02 247.87L605.15 249.11L605.28 250.41L605.41 251.68L605.54 252.83L605.68 253.62L605.81 254.81L605.94 255.39L606.07 256.21L606.20 256.39L606.34 256.90L606.47 256.95L606.60 257.29L606.86 257.44L606.99 257.26L607.13 257.42L607.39 257.56L607.52 257.73L607.65 257.43L607.79 257.58L607.92 257.76L608.05 257.82L608.18 257.54L608.31 257.25L608.44 257.21L608.58 256.95L608.71 257.16L608.84 256.87L608.97 256.71L609.10 256.86L609.24 256.96L609.37 256.76L609.50 256.58L609.63 256.35L609.76 256.01L610.03 255.90L610.16 255.72L610.29 255.64L610.42 255.36L610.55 255.05L610.82 254.99L610.95 254.64L611.08 254.77L611.21 254.41L611.34 254.35L611.48 254.56L611.61 254.84L611.74 254.60L611.87 254.97L612.00 254.85L612.13 255.00L612.27 255.07L612.40 255.46L612.53 255.47L612.66 255.83L612.93 255.85L613.06 256.08L613.19 256.52L613.32 256.80L613.45 256.92L613.72 256.78L613.85 257.03L613.98 257.10L614.11 257.28L614.24 257.33L614.38 257.46L614.51 257.19L614.64 257.34L614.90 257.33L615.03 257.47L615.17 257.59L615.30 257.45L615.43 257.12L615.83 257.14L615.96 256.91L616.09 256.91L616.22 256.72L616.35 256.57L616.48 256.69L616.62 256.56L616.75 256.15L616.88 256.19L617.01 255.87L617.14 256.00L617.27 255.80L617.41 255.66L617.54 255.41L617.67 255.57L617.80 255.55L617.93 255.34L618.07 254.88L618.20 254.79L618.33 254.49L618.46 254.45L618.59 254.12L618.72 254.38L618.86 254.03L619.12 254.12L619.25 253.87L619.38 253.72L619.52 253.24L619.65 252.91L619.78 252.76L620.04 252.83L620.17 252.63L620.31 252.49L620.44 252.39L620.57 252.26L620.70 252.08L620.83 251.88L620.97 251.81L621.10 251.60L621.23 251.07L621.36 250.78L621.49 250.70L621.62 250.45L621.76 250.29L621.89 250.65L622.02 250.85L622.15 250.73L622.28 250.39L622.42 249.63L622.55 249.28L622.68 248.10L622.81 246.64L622.94 245.38L623.07 243.85L623.21 242.74L623.34 242.86L623.47 243.37L623.60 244.75L623.73 246.36L623.87 248.44L624.00 249.95L624.13 251.56L624.26 252.70L624.39 253.24L624.52 253.65L624.66 253.87L624.79 254.14L624.92 253.88L625.05 254.07L625.18 254.15L625.31 254.30L625.45 254.10L625.58 254.40L625.71 254.16L625.84 254.45L625.97 254.26L626.11 254.41L626.24 254.43L626.37 254.68L626.50 254.53L626.63 254.82L627.16 254.70L627.29 254.85L627.42 255.36L627.56 255.38L627.69 255.85L627.95 255.76L628.08 256.24L628.21 256.65L628.35 256.51L628.48 256.75L628.87 256.70L629.01 256.96L629.40 257.10L629.53 257.43L629.66 257.35L629.80 257.60L629.93 257.50L630.06 257.76L630.19 257.87L630.32 258.20L630.46 258.37L630.59 258.03L631.25 258.07L631.38 258.33L631.51 258.40L631.64 258.26L631.77 258.45L631.90 258.13L632.04 258.43L632.17 258.33L632.30 258.10L632.43 258.05L632.56 258.34L632.70 258.55L632.83 258.33L632.96 258.37L633.09 258.57L633.22 258.68L633.35 258.44L633.49 258.66L633.62 258.65L633.75 258.28L633.88 258.44L634.01 258.21L634.15 258.53L634.28 258.62L634.41 258.77L634.54 258.48L634.67 258.39L634.80 258.23L634.94 258.11L635.07 258.09L635.20 258.42L635.33 258.43L635.46 258.67L635.60 258.39L635.86 258.45L635.99 258.21L636.12 258.01L636.25 258.11L636.39 258.29L636.52 258.13L636.65 258.04L636.78 258.35L636.91 258.40L637.04 258.16L637.18 257.99L637.31 257.93L637.44 258.13L637.57 258.42L637.70 258.20L637.84 258.45L638.10 258.45L638.23 258.24L638.36 258.38L638.49 258.46L638.63 258.25L638.76 258.19L638.89 258.00L639.02 258.37L639.15 258.59L639.29 258.42L639.42 258.41L639.55 258.18L639.68 258.28L639.81 258.57L640.08 258.57L640.21 258.28L640.34 258.05L640.47 257.81L640.60 257.93L640.74 257.49L640.87 257.05L641.00 255.86L641.13 255.04L641.26 253.70L641.39 252.43L641.53 251.80L641.66 251.40L641.79 251.93L641.92 252.95L642.05 254.07L642.19 255.38L642.32 256.32L642.45 256.97L642.58 257.31L642.71 257.91L642.84 258.14L642.98 258.16L643.11 258.36L643.24 258.49L643.37 258.53L643.50 258.29L643.63 258.42L643.77 258.26L643.90 258.52L644.43 258.72L644.56 258.63L644.69 258.35L644.82 258.26L644.95 258.02L645.08 258.25L645.22 258.40L645.35 258.52L645.48 258.45L645.61 258.61L645.74 258.32L645.88 258.38L646.01 258.61L646.14 258.49L646.53 258.57L646.67 258.36L646.80 258.04L646.93 258.07L647.06 258.27L647.19 258.52L647.72 258.35L647.98 258.46L648.12 258.06L648.25 257.80L648.38 257.74L648.51 257.56L648.64 257.61L648.78 257.48L648.91 257.47L649.04 257.20L649.17 256.73L649.30 256.24L649.43 255.49L649.57 254.61L649.70 253.56L649.83 251.82L649.96 249.74L650.09 247.73L650.23 245.36L650.36 242.81L650.49 240.00L650.62 237.39L650.75 235.12L650.88 233.45L651.02 232.48L651.28 232.44L651.41 233.47L651.54 234.77L651.67 235.77L651.81 237.45L651.94 239.05L652.07 241.03L652.20 243.16L652.33 245.14L652.47 246.50L652.60 248.40L652.73 249.85L652.86 251.28L652.99 252.32L653.12 253.41L653.26 254.10L653.39 255.06L653.52 255.62L653.65 255.85L653.78 256.33L653.92 256.47L654.05 257.11L654.18 257.06L654.31 257.32L654.44 257.14L654.57 257.17L654.71 257.37L654.84 257.10L654.97 257.10L655.10 256.66L655.23 255.95L655.37 255.46L655.50 254.80L655.63 253.53L655.76 252.76L655.89 251.72L656.02 251.19L656.29 251.10L656.42 251.78L656.55 252.74L656.68 253.40L656.82 254.13L656.95 255.23L657.08 255.73L657.21 256.64L657.34 256.85L657.47 257.11L657.61 257.44L657.87 257.59L658.00 257.39L658.26 257.31L658.40 257.10L658.53 257.12L658.66 257.24L658.79 257.05L658.92 256.71L659.06 256.84L659.19 256.89L659.32 256.56L659.45 256.79L659.58 256.50L659.71 256.72L659.85 256.94L659.98 256.83L660.11 256.71L660.24 256.91L660.37 257.19L660.51 257.48L660.64 257.76L660.77 257.58L660.90 257.49L661.03 257.70L661.69 257.67L661.82 257.99L661.96 257.79L662.09 257.87L662.22 258.09L662.35 258.02L662.48 258.20L662.61 258.24L662.75 258.04L663.14 257.89L663.27 257.81L663.40 258.02L663.54 258.32L663.67 258.02L663.80 258.33L663.93 258.30L664.06 258.47L664.20 258.33L664.33 258.11L664.46 258.39L664.72 258.30L664.85 258.15L664.99 257.93L665.12 257.92L665.25 258.26L665.51 258.25L665.65 258.40L665.78 258.09L666.04 258.24L666.30 258.24L666.44 258.02L666.57 258.28L666.83 258.28L666.96 258.46L667.10 258.37L667.23 258.19L667.36 258.09L667.49 257.81L667.62 257.81L667.75 257.68L668.41 257.66L668.55 257.92L668.68 258.10L668.81 257.88L668.94 258.21L669.07 258.21L669.20 257.96L669.34 258.11L669.60 258.15L669.73 258.03L669.86 257.84L670.00 258.16L670.13 258.16L670.26 257.91L670.39 258.00L670.52 257.74L670.65 257.98L670.79 257.99L670.92 258.18L671.05 257.90L671.18 257.95L671.31 257.79L671.44 257.76L671.58 257.99L671.71 257.79L671.84 258.11L671.97 257.82L672.10 257.72L672.24 257.96L672.63 258.02L672.76 257.74L673.03 257.85L673.16 258.14L673.29 258.31L673.42 258.17L673.55 258.12L673.69 257.80L673.82 257.81L673.95 257.64L674.08 257.71L674.21 257.55L674.34 257.80L674.48 258.11L674.61 257.89L674.74 257.81L674.87 258.01L675.14 258.05L675.27 257.76L675.79 257.92L675.93 257.96L676.06 258.10L676.19 257.90L676.32 258.15L676.45 258.02L676.59 258.18L676.72 258.25L676.85 257.94L676.98 257.70L677.11 257.75L677.24 257.53L677.64 257.65L677.77 257.99L677.90 258.15L678.03 257.88L678.17 257.92L678.30 257.62L678.43 257.83L678.69 258.04L678.83 257.70L678.96 257.71L679.09 257.88L679.22 258.09L679.35 257.92L679.48 258.13L679.62 257.79L679.75 257.97L679.88 257.74L680.01 257.55L680.14 257.75L680.41 257.62L680.67 257.77L680.80 257.54L680.93 257.76L681.07 257.71L681.20 258.00L681.33 257.85L681.46 257.54L681.59 257.67L681.73 257.56L681.86 257.72L682.12 257.81L682.25 257.56L682.38 257.71L682.52 257.96" stroke="#0c0c0c" stroke-width="1.45" fill="none" stroke-linejoin="miter" stroke-miterlimit="3"/>
<text class="s" x="140.0" y="262.9" font-size="8.3" text-anchor="middle" textLength="23.0" lengthAdjust="spacingAndGlyphs">10.06</text>
<text class="s" x="180.9" y="263.7" font-size="8.3" text-anchor="middle" textLength="23.0" lengthAdjust="spacingAndGlyphs">16.34</text>
<text class="s" x="227.3" y="264.2" font-size="8.3" text-anchor="middle" textLength="23.0" lengthAdjust="spacingAndGlyphs">23.35</text>
<text class="s" x="274.9" y="264.2" font-size="8.3" text-anchor="middle" textLength="23.0" lengthAdjust="spacingAndGlyphs">30.59</text>
<text class="s" x="308.6" y="260.2" font-size="8.3" text-anchor="middle" textLength="23.0" lengthAdjust="spacingAndGlyphs">35.75</text>
<text class="s" x="392.9" y="240.9" font-size="8.3" text-anchor="middle" textLength="23.0" lengthAdjust="spacingAndGlyphs">48.50</text>
<text class="s" x="428.4" y="231.2" font-size="8.3" text-anchor="middle" textLength="23.0" lengthAdjust="spacingAndGlyphs">53.84</text>
<text class="s" x="483.9" y="181.9" font-size="8.3" text-anchor="middle" textLength="23.0" lengthAdjust="spacingAndGlyphs">62.37</text>
<text class="s" x="523.9" y="50.0" font-size="8.3" text-anchor="middle" textLength="23.0" lengthAdjust="spacingAndGlyphs">68.30</text>
<text class="s" x="556.5" y="186.0" font-size="8.3" text-anchor="middle" textLength="23.0" lengthAdjust="spacingAndGlyphs">73.24</text>
<text class="s" x="574.4" y="251.0" font-size="8.3" text-anchor="middle" textLength="23.0" lengthAdjust="spacingAndGlyphs">75.90</text>
<text class="s" x="596.8" y="137.2" font-size="8.3" text-anchor="middle" textLength="23.0" lengthAdjust="spacingAndGlyphs">79.44</text>
<text class="s" x="651.7" y="232.6" font-size="8.3" text-anchor="middle" textLength="23.0" lengthAdjust="spacingAndGlyphs">87.63</text>
<path d="M82.25 333.60V554.20M75.65 549.00H677.56" stroke="#111" stroke-width="1.9" fill="none"/>
<path d="M75.35 549.00H82.25M77.95 544.70H82.25M77.95 540.41H82.25M77.95 536.11H82.25M77.95 531.82H82.25M75.35 527.52H82.25M77.95 523.22H82.25M77.95 518.93H82.25M77.95 514.63H82.25M77.95 510.34H82.25M75.35 506.04H82.25M77.95 501.74H82.25M77.95 497.45H82.25M77.95 493.15H82.25M77.95 488.86H82.25M75.35 484.56H82.25M77.95 480.26H82.25M77.95 475.97H82.25M77.95 471.67H82.25M77.95 467.38H82.25M75.35 463.08H82.25M77.95 458.78H82.25M77.95 454.49H82.25M77.95 450.19H82.25M77.95 445.90H82.25M75.35 441.60H82.25M77.95 437.30H82.25M77.95 433.01H82.25M77.95 428.71H82.25M77.95 424.42H82.25M75.35 420.12H82.25M77.95 415.82H82.25M77.95 411.53H82.25M77.95 407.23H82.25M77.95 402.94H82.25M75.35 398.64H82.25M77.95 394.34H82.25M77.95 390.05H82.25M77.95 385.75H82.25M77.95 381.46H82.25M75.35 377.16H82.25M77.95 372.86H82.25M77.95 368.57H82.25M77.95 364.27H82.25M77.95 359.98H82.25M75.35 355.68H82.25M77.95 351.38H82.25M77.95 347.09H82.25M77.95 342.79H82.25M77.95 338.50H82.25M75.35 334.20H82.25M82.25 549.00V554.80M88.69 549.00V552.90M95.13 549.00V552.90M101.57 549.00V552.90M108.01 549.00V552.90M114.45 549.00V554.80M120.89 549.00V552.90M127.33 549.00V552.90M133.77 549.00V552.90M140.21 549.00V552.90M146.65 549.00V554.80M153.09 549.00V552.90M159.53 549.00V552.90M165.97 549.00V552.90M172.41 549.00V552.90M178.85 549.00V554.80M185.29 549.00V552.90M191.73 549.00V552.90M198.17 549.00V552.90M204.61 549.00V552.90M211.05 549.00V554.80M217.49 549.00V552.90M223.93 549.00V552.90M230.37 549.00V552.90M236.81 549.00V552.90M243.25 549.00V554.80M249.69 549.00V552.90M256.13 549.00V552.90M262.57 549.00V552.90M269.01 549.00V552.90M275.45 549.00V554.80M281.89 549.00V552.90M288.33 549.00V552.90M294.77 549.00V552.90M301.21 549.00V552.90M307.65 549.00V554.80M314.09 549.00V552.90M320.53 549.00V552.90M326.97 549.00V552.90M333.41 549.00V552.90M339.85 549.00V554.80M346.29 549.00V552.90M352.73 549.00V552.90M359.17 549.00V552.90M365.61 549.00V552.90M372.05 549.00V554.80M378.49 549.00V552.90M384.93 549.00V552.90M391.37 549.00V552.90M397.81 549.00V552.90M404.25 549.00V554.80M410.69 549.00V552.90M417.13 549.00V552.90M423.57 549.00V552.90M430.01 549.00V552.90M436.45 549.00V554.80M442.89 549.00V552.90M449.33 549.00V552.90M455.77 549.00V552.90M462.21 549.00V552.90M468.65 549.00V554.80M475.09 549.00V552.90M481.53 549.00V552.90M487.97 549.00V552.90M494.41 549.00V552.90M500.85 549.00V554.80M507.29 549.00V552.90M513.73 549.00V552.90M520.17 549.00V552.90M526.61 549.00V552.90M533.05 549.00V554.80M539.49 549.00V552.90M545.93 549.00V552.90M552.37 549.00V552.90M558.81 549.00V552.90M565.25 549.00V554.80M571.69 549.00V552.90M578.13 549.00V552.90M584.57 549.00V552.90M591.01 549.00V552.90M597.45 549.00V554.80M603.89 549.00V552.90M610.33 549.00V552.90M616.77 549.00V552.90M623.21 549.00V552.90M629.65 549.00V554.80M636.09 549.00V552.90M642.53 549.00V552.90M648.97 549.00V552.90M655.41 549.00V552.90M661.85 549.00V554.80M668.29 549.00V552.90M674.73 549.00V552.90" stroke="#111" stroke-width="1.25" fill="none"/>
<text class="s h" x="75.2" y="552.0" font-size="8.3" text-anchor="end" textLength="4.8" lengthAdjust="spacingAndGlyphs">0</text>
<text class="s h" x="75.2" y="530.5" font-size="8.3" text-anchor="end" textLength="9.5" lengthAdjust="spacingAndGlyphs">10</text>
<text class="s h" x="75.2" y="509.0" font-size="8.3" text-anchor="end" textLength="9.5" lengthAdjust="spacingAndGlyphs">20</text>
<text class="s h" x="75.2" y="487.6" font-size="8.3" text-anchor="end" textLength="9.5" lengthAdjust="spacingAndGlyphs">30</text>
<text class="s h" x="75.2" y="466.1" font-size="8.3" text-anchor="end" textLength="9.5" lengthAdjust="spacingAndGlyphs">40</text>
<text class="s h" x="75.2" y="444.6" font-size="8.3" text-anchor="end" textLength="9.5" lengthAdjust="spacingAndGlyphs">50</text>
<text class="s h" x="75.2" y="423.1" font-size="8.3" text-anchor="end" textLength="9.5" lengthAdjust="spacingAndGlyphs">60</text>
<text class="s h" x="75.2" y="401.6" font-size="8.3" text-anchor="end" textLength="9.5" lengthAdjust="spacingAndGlyphs">70</text>
<text class="s h" x="75.2" y="380.2" font-size="8.3" text-anchor="end" textLength="9.5" lengthAdjust="spacingAndGlyphs">80</text>
<text class="s h" x="75.2" y="358.7" font-size="8.3" text-anchor="end" textLength="9.5" lengthAdjust="spacingAndGlyphs">90</text>
<text class="s h" x="75.2" y="337.2" font-size="8.3" text-anchor="end" textLength="14.2" lengthAdjust="spacingAndGlyphs">100</text>
<text class="s h" x="82.2" y="563.7" font-size="8.3" text-anchor="middle" textLength="5.0" lengthAdjust="spacingAndGlyphs">0</text>
<text class="s h" x="114.5" y="563.7" font-size="8.3" text-anchor="middle" textLength="5.0" lengthAdjust="spacingAndGlyphs">5</text>
<text class="s h" x="146.7" y="563.7" font-size="8.3" text-anchor="middle" textLength="9.9" lengthAdjust="spacingAndGlyphs">10</text>
<text class="s h" x="178.9" y="563.7" font-size="8.3" text-anchor="middle" textLength="9.9" lengthAdjust="spacingAndGlyphs">15</text>
<text class="s h" x="211.1" y="563.7" font-size="8.3" text-anchor="middle" textLength="9.9" lengthAdjust="spacingAndGlyphs">20</text>
<text class="s h" x="243.2" y="563.7" font-size="8.3" text-anchor="middle" textLength="9.9" lengthAdjust="spacingAndGlyphs">25</text>
<text class="s h" x="275.5" y="563.7" font-size="8.3" text-anchor="middle" textLength="9.9" lengthAdjust="spacingAndGlyphs">30</text>
<text class="s h" x="307.6" y="563.7" font-size="8.3" text-anchor="middle" textLength="9.9" lengthAdjust="spacingAndGlyphs">35</text>
<text class="s h" x="339.9" y="563.7" font-size="8.3" text-anchor="middle" textLength="9.9" lengthAdjust="spacingAndGlyphs">40</text>
<text class="s h" x="372.1" y="563.7" font-size="8.3" text-anchor="middle" textLength="9.9" lengthAdjust="spacingAndGlyphs">45</text>
<text class="s h" x="404.2" y="563.7" font-size="8.3" text-anchor="middle" textLength="9.9" lengthAdjust="spacingAndGlyphs">50</text>
<text class="s h" x="436.5" y="563.7" font-size="8.3" text-anchor="middle" textLength="9.9" lengthAdjust="spacingAndGlyphs">55</text>
<text class="s h" x="468.7" y="563.7" font-size="8.3" text-anchor="middle" textLength="9.9" lengthAdjust="spacingAndGlyphs">60</text>
<text class="s h" x="500.9" y="563.7" font-size="8.3" text-anchor="middle" textLength="9.9" lengthAdjust="spacingAndGlyphs">65</text>
<text class="s h" x="533.0" y="563.7" font-size="8.3" text-anchor="middle" textLength="9.9" lengthAdjust="spacingAndGlyphs">70</text>
<text class="s h" x="565.2" y="563.7" font-size="8.3" text-anchor="middle" textLength="9.9" lengthAdjust="spacingAndGlyphs">75</text>
<text class="s h" x="597.5" y="563.7" font-size="8.3" text-anchor="middle" textLength="9.9" lengthAdjust="spacingAndGlyphs">80</text>
<text class="s h" x="629.6" y="563.7" font-size="8.3" text-anchor="middle" textLength="9.9" lengthAdjust="spacingAndGlyphs">85</text>
<text class="s h" x="661.9" y="563.7" font-size="8.3" text-anchor="middle" textLength="9.9" lengthAdjust="spacingAndGlyphs">90</text>
<text class="s m" font-size="8.4" text-anchor="middle" textLength="80" lengthAdjust="spacingAndGlyphs" transform="translate(56.6 441.3) rotate(-90)">Relative Abundance</text>
<text class="s h" x="380.1" y="573.7" font-size="8.6" text-anchor="middle" textLength="45.0" lengthAdjust="spacingAndGlyphs">Time (min)</text>
<text class="s h" x="45.7" y="321.3" font-size="8.8" text-anchor="start" textLength="67.9" lengthAdjust="spacingAndGlyphs">RT: 0.00 - 92.44</text>
<path d="M82.25 549.00L83.80 549.00L85.34 549.00L86.89 549.00L88.43 549.00L89.98 549.00L91.52 549.00L93.07 549.00L94.61 549.00L96.16 549.00L97.71 549.00L99.25 549.00L100.80 549.00L102.34 549.00L103.89 549.00L105.43 549.00L106.98 549.00L108.53 549.00L110.07 549.00L111.62 549.00L113.16 549.00L114.71 549.00L116.25 549.00L117.80 549.00L119.34 549.00L120.89 549.00L122.44 549.00L123.98 549.00L125.53 549.00L127.07 549.00L128.62 549.00L130.16 549.00L131.71 549.00L133.25 549.00L134.80 549.00L136.35 549.00L137.89 549.00L139.44 549.00L140.98 549.00L142.53 548.99L144.07 548.99L144.46 548.86L144.85 548.71L145.10 548.57L145.36 548.43L145.49 548.35L145.62 548.19L145.75 548.03L145.88 548.04L146.01 547.89L146.13 547.70L146.39 547.55L146.78 547.39L146.91 547.35L147.04 547.49L147.17 547.35L147.29 547.50L147.42 547.54L147.55 547.69L147.68 547.70L147.81 547.87L148.20 548.05L149.74 548.10L150.90 548.23L151.03 548.29L151.16 548.17L152.70 548.11L154.25 548.22L155.67 548.07L156.70 547.90L157.73 547.84L157.86 547.69L158.11 547.81L158.50 547.64L158.76 547.51L160.30 547.38L160.43 547.54L160.56 547.42L160.69 547.61L160.95 547.42L161.33 547.56L161.72 547.49L161.85 547.63L162.36 547.61L162.49 547.75L162.62 547.69L162.75 547.83L163.01 547.94L163.14 547.81L163.52 547.95L164.68 547.94L164.81 548.08L165.71 548.05L165.84 548.20L166.36 548.10L166.49 548.23L168.03 548.16L169.06 548.33L169.45 548.34L169.58 548.21L170.74 548.07L170.99 548.20L171.25 548.33L171.77 548.17L172.02 548.31L172.80 548.18L173.05 548.31L173.57 548.17L175.11 548.20L175.37 548.15L175.50 548.29L176.53 548.14L177.30 548.30L178.85 548.30L180.40 548.29L181.94 548.28L182.59 548.43L182.84 548.29L183.74 548.43L184.39 548.27L184.65 548.40L186.19 548.30L186.45 548.46L186.96 548.33L187.87 548.47L188.12 548.32L189.41 548.47L190.31 548.30L190.57 548.46L192.12 548.36L192.25 548.29L192.37 548.41L192.76 548.54L192.89 548.41L194.43 548.44L195.34 548.30L196.37 548.13L196.75 547.94L197.40 547.80L197.53 547.92L198.17 548.05L198.69 548.18L199.33 548.37L200.36 548.51L200.62 548.57L200.75 548.44L202.29 548.54L202.81 548.41L203.32 548.56L204.87 548.46L206.16 548.62L207.19 548.50L208.73 548.49L210.28 548.62L210.79 548.44L211.31 548.57L212.47 548.45L214.01 548.49L215.56 548.61L216.33 548.49L217.88 548.48L219.42 548.44L219.94 548.58L220.58 548.46L221.35 548.60L222.38 548.44L222.64 548.56L223.16 548.43L224.70 548.45L224.96 548.33L225.35 548.37L225.48 548.24L225.99 548.16L226.12 548.03L226.25 548.06L226.38 547.91L226.76 547.78L227.28 547.95L227.54 547.89L227.67 548.05L227.92 548.21L228.95 548.34L229.34 548.52L230.89 548.43L231.14 548.57L232.69 548.47L232.95 548.59L233.46 548.44L235.01 548.53L235.52 548.40L236.94 548.57L237.58 548.42L237.84 548.56L239.39 548.50L240.93 548.57L241.45 548.44L242.99 548.46L244.41 548.31L244.80 548.18L245.05 548.07L245.18 547.94L245.95 547.94L246.08 547.78L246.47 547.62L247.50 547.77L248.14 547.72L248.27 547.89L248.92 547.90L249.05 548.04L249.69 548.21L249.95 548.34L250.21 548.24L250.33 548.38L250.59 548.51L252.14 548.37L252.39 548.51L252.91 548.38L253.17 548.51L254.71 548.55L255.87 548.41L256.65 548.56L257.03 548.40L258.19 548.36L258.32 548.48L259.87 548.57L260.25 548.44L260.51 548.34L260.64 548.46L261.54 548.27L262.31 548.17L262.44 548.00L262.70 548.12L262.83 547.98L262.96 548.01L263.09 547.86L263.73 547.77L263.86 547.95L263.99 548.07L264.12 548.20L264.76 548.36L265.15 548.32L265.27 548.45L266.82 548.44L267.85 548.60L268.11 548.47L269.65 548.49L270.81 548.36L271.71 548.52L273.26 548.52L274.81 548.55L275.58 548.42L276.09 548.36L276.22 548.50L277.51 548.61L277.64 548.49L278.93 548.36L279.19 548.52L280.60 548.38L280.99 548.50L282.53 548.42L282.79 548.35L282.92 548.49L284.47 548.49L284.98 548.40L285.11 548.52L286.53 548.39L286.91 548.52L288.46 548.56L290.00 548.52L290.91 548.63L291.03 548.51L292.58 548.61L294.13 548.61L295.29 548.44L296.57 548.57L296.83 548.44L297.99 548.56L298.63 548.42L298.89 548.55L300.44 548.59L301.98 548.63L302.37 548.46L303.27 548.60L303.53 548.44L303.79 548.59L304.43 548.45L305.98 548.38L307.01 548.56L308.04 548.41L309.58 548.50L311.13 548.45L311.39 548.47L311.51 548.33L311.64 548.22L311.77 548.04L311.90 547.82L312.03 547.21L312.16 546.49L312.29 545.98L312.42 545.47L312.54 544.84L312.67 545.11L312.80 545.44L312.93 546.10L313.06 546.67L313.19 547.31L313.32 547.80L313.45 548.16L313.57 548.33L313.70 548.49L315.25 548.52L316.79 548.55L318.34 548.57L318.73 548.61L318.86 548.48L320.40 548.58L321.43 548.41L322.98 548.50L324.52 548.58L324.91 548.42L326.45 548.40L326.71 548.56L327.10 548.42L328.13 548.55L329.67 548.54L331.22 548.46L331.48 548.27L331.74 548.26L331.86 548.11L332.64 547.91L332.77 547.78L333.93 547.74L334.05 547.89L334.57 548.07L334.83 548.20L335.34 548.40L336.76 548.53L338.30 548.51L339.85 548.43L341.40 548.59L341.65 548.47L342.04 548.59L342.43 548.44L343.97 548.41L345.13 548.55L346.68 548.62L347.71 548.45L349.25 548.55L349.51 548.43L351.06 548.43L351.44 548.31L352.34 548.37L352.47 548.24L353.37 548.09L353.76 548.23L354.53 548.20L354.66 548.05L355.43 548.04L355.56 547.89L355.69 547.97L355.82 547.83L355.95 547.83L356.08 547.69L356.34 547.72L356.47 547.55L356.98 547.39L357.24 547.21L357.37 546.96L357.50 546.67L357.88 546.55L358.14 546.38L358.27 546.24L358.40 546.22L358.53 546.52L358.91 546.65L359.04 546.87L359.17 546.89L359.30 547.19L359.43 547.34L359.56 547.42L359.69 547.58L359.81 547.58L359.94 547.77L360.20 547.69L360.33 547.84L360.84 547.75L360.97 547.90L361.10 547.84L361.23 547.97L362.78 548.02L364.06 547.98L364.19 547.76L364.32 547.59L364.45 547.46L364.58 546.99L364.71 546.78L364.84 546.34L364.97 546.21L365.09 546.34L365.22 546.74L365.35 547.14L365.48 547.40L365.61 547.53L365.74 547.71L366.13 547.84L367.16 547.98L367.54 548.01L367.67 547.83L367.93 547.67L368.06 547.49L368.19 547.17L368.31 546.81L368.44 546.62L368.57 546.47L368.70 546.53L368.83 546.33L369.09 546.32L369.22 546.58L369.35 546.91L369.47 547.20L369.60 547.32L369.73 547.60L369.86 547.83L369.99 547.98L370.25 547.82L370.38 547.95L370.89 547.90L371.02 547.75L371.15 547.57L371.28 547.64L371.41 547.49L371.53 547.38L371.66 547.24L371.79 547.08L372.31 546.97L372.44 547.18L372.69 547.29L372.82 547.47L373.08 547.64L373.21 547.79L373.60 548.01L375.01 547.81L375.14 547.92L375.27 547.76L375.40 547.51L375.53 547.37L375.66 546.86L375.79 546.27L375.91 545.84L376.04 545.35L376.17 544.94L376.30 544.77L376.43 545.17L376.56 545.90L376.69 546.63L376.82 547.16L376.94 547.50L377.07 547.76L377.33 547.95L377.59 548.14L377.85 548.03L377.97 547.90L378.88 547.81L379.01 547.97L380.55 547.89L380.68 547.77L380.81 547.39L380.94 546.86L381.07 545.83L381.19 544.51L381.32 543.42L381.45 542.05L381.58 541.10L381.71 540.63L381.84 541.06L381.97 541.80L382.10 543.12L382.23 544.29L382.35 545.48L382.48 546.46L382.61 547.21L382.74 547.46L382.87 547.59L383.00 547.75L383.51 547.87L383.77 548.06L384.29 547.91L384.80 548.09L384.93 547.96L386.35 548.08L386.99 547.92L388.41 547.76L388.67 547.66L388.79 547.43L388.92 547.20L389.05 547.19L389.18 547.05L389.31 546.99L389.44 546.84L389.70 546.97L389.82 547.15L389.95 547.29L390.08 547.34L390.21 547.59L390.34 547.79L390.60 547.61L390.73 547.74L391.11 547.59L391.24 547.70L391.37 547.58L391.50 547.55L391.63 547.30L391.76 547.12L391.89 546.66L392.01 546.03L392.14 544.51L392.27 542.86L392.40 540.78L392.53 538.85L392.66 537.18L392.79 536.39L392.92 536.60L393.04 538.15L393.17 540.13L393.30 542.14L393.43 543.32L393.56 544.13L393.69 544.25L393.82 543.78L393.95 543.21L394.07 541.68L394.20 539.17L394.33 536.10L394.46 532.16L394.59 528.26L394.72 524.46L394.85 521.60L394.98 520.44L395.11 520.91L395.23 523.22L395.36 526.28L395.49 529.98L395.62 533.10L395.75 535.73L395.88 537.91L396.01 539.03L396.14 539.47L396.26 540.18L396.39 540.45L396.52 540.66L396.78 540.62L396.91 540.90L397.29 540.94L397.42 541.34L397.55 541.54L397.68 541.43L397.81 541.61L397.94 541.99L398.20 542.09L398.33 542.30L398.45 542.78L398.58 543.03L398.71 543.16L398.84 543.39L398.97 543.75L399.10 544.09L399.23 544.28L399.48 544.32L399.61 544.54L399.74 544.98L400.00 544.86L400.13 544.98L400.26 544.91L400.39 544.78L400.77 544.79L400.90 544.33L401.03 544.06L401.16 544.40L401.29 544.29L401.42 544.17L401.55 544.43L401.67 544.56L401.80 544.85L401.93 544.84L402.06 545.10L402.19 545.47L402.32 545.73L402.45 545.75L402.58 545.91L402.70 546.31L402.83 546.32L402.96 546.53L403.35 546.61L403.48 546.76L403.61 546.91L404.12 547.03L404.25 546.90L404.38 546.86L404.51 547.09L404.89 546.97L405.02 547.15L405.15 547.01L405.28 546.93L405.41 547.12L406.05 547.09L406.18 547.29L406.57 547.38L406.70 547.22L407.34 547.39L407.99 547.41L408.11 547.22L408.24 547.07L408.50 547.07L408.63 547.23L408.76 547.07L408.89 546.97L409.02 546.81L409.14 546.93L409.27 546.48L409.40 545.36L409.53 542.50L409.66 537.72L409.79 531.13L409.92 528.29L410.17 528.26L410.30 528.14L410.43 528.11L410.56 527.79L410.69 528.00L410.82 527.52L410.95 527.14L411.08 526.91L411.21 526.53L411.33 529.99L411.46 536.48L411.59 542.12L411.72 545.08L411.85 546.03L411.98 546.35L412.11 546.63L412.24 546.82L412.49 546.90L412.62 546.67L412.75 546.71L412.88 546.59L413.01 546.48L413.14 546.34L413.27 546.52L413.39 546.65L413.65 546.66L413.78 546.48L413.91 546.32L414.04 546.11L414.17 546.13L414.30 545.85L414.43 545.18L414.55 543.13L414.68 537.86L414.81 526.94L414.94 514.03L415.07 507.60L415.20 507.44L415.33 507.21L415.46 507.12L415.58 507.00L415.84 506.92L415.97 507.20L416.10 507.36L416.23 507.11L416.36 513.77L416.49 526.69L416.61 537.56L416.74 542.98L416.87 544.74L417.00 545.30L417.26 545.29L417.39 544.95L417.52 545.05L417.65 544.73L417.77 544.48L417.90 544.64L418.03 544.73L418.16 544.49L418.29 544.14L418.55 544.23L418.68 544.47L418.80 544.60L419.06 544.45L419.19 544.68L419.32 544.87L419.45 544.70L419.58 544.54L419.83 544.61L419.96 544.77L420.09 544.85L420.22 545.02L420.48 544.93L420.61 545.15L420.87 545.22L420.99 545.51L421.12 545.32L421.25 545.51L421.64 545.44L421.77 545.24L421.90 545.08L422.02 544.94L422.15 544.53L422.28 544.18L422.41 543.77L422.54 543.19L422.67 542.96L422.80 542.24L422.93 541.77L423.05 541.61L423.18 542.04L423.31 542.50L423.44 542.29L423.57 542.40L423.70 542.18L423.83 541.81L423.96 541.80L424.09 541.56L424.21 541.17L424.34 540.62L424.47 539.96L424.60 539.14L424.73 538.64L424.86 537.86L424.99 537.52L425.12 536.96L425.24 535.96L425.37 535.46L425.50 534.61L425.63 533.74L425.76 533.24L425.89 532.31L426.02 531.59L426.15 531.23L426.27 530.71L426.40 530.31L426.53 529.89L426.66 529.43L426.79 528.85L426.92 528.50L427.05 528.09L427.18 527.93L427.31 527.70L427.43 527.06L427.56 526.93L427.69 526.76L427.82 526.23L427.95 526.11L428.08 525.80L428.21 525.42L428.34 525.03L428.46 524.75L428.59 524.30L428.72 523.92L428.85 523.35L428.98 522.48L429.11 521.76L429.24 521.15L429.37 519.90L429.49 518.83L429.62 517.39L429.75 515.81L429.88 514.23L430.01 512.59L430.14 510.53L430.27 508.69L430.40 507.23L430.53 505.91L430.65 505.33L430.78 505.19L430.91 505.34L431.04 506.48L431.17 509.10L431.30 512.59L431.43 516.30L431.56 520.42L431.68 524.54L431.81 528.47L431.94 531.84L432.07 534.72L432.20 537.08L432.33 538.59L432.46 540.01L432.59 540.99L432.71 541.63L432.84 542.24L432.97 542.50L433.10 542.68L433.23 542.91L433.36 543.15L433.49 543.36L433.75 543.37L433.87 543.71L434.13 543.75L434.26 543.57L434.39 543.75L434.52 543.51L434.65 543.18L434.90 543.07L435.03 542.56L435.16 541.65L435.29 540.75L435.42 540.02L435.55 539.58L435.68 539.34L435.81 538.99L435.93 539.40L436.06 539.87L436.19 540.12L436.32 540.66L436.45 541.55L436.58 542.03L436.71 542.52L436.84 543.01L436.97 542.86L437.09 543.03L437.22 542.83L437.48 542.89L437.61 543.24L437.74 542.93L437.87 542.97L438.00 542.83L438.12 542.66L438.25 542.94L438.38 543.19L438.77 543.15L438.90 542.97L439.03 543.38L439.15 543.31L439.28 543.61L439.67 543.70L439.80 543.86L439.93 543.73L440.06 544.04L440.19 544.18L440.31 543.91L440.44 543.86L440.57 544.08L440.83 544.16L440.96 544.30L441.09 544.36L441.22 544.14L441.34 544.31L441.47 544.52L441.60 544.44L441.73 544.30L441.86 544.67L441.99 544.80L442.25 544.99L442.50 544.90L442.63 544.67L442.76 544.65L442.89 544.48L443.02 544.61L443.41 544.72L443.53 545.01L443.66 545.14L443.79 545.22L443.92 545.35L444.05 544.92L444.18 545.12L444.31 544.94L444.44 544.80L444.56 544.93L444.69 545.17L444.82 545.00L444.95 544.81L445.21 544.75L445.34 544.90L445.47 545.05L445.59 544.94L445.72 544.47L445.85 544.27L445.98 543.40L446.11 542.33L446.24 541.20L446.37 540.05L446.50 539.49L446.63 539.02L446.75 538.60L446.88 538.68L447.01 538.97L447.14 539.42L447.27 540.04L447.40 540.88L447.53 541.81L447.66 542.46L447.78 542.82L447.91 543.56L448.04 544.06L448.17 544.53L448.30 544.77L448.43 544.77L448.56 545.04L448.69 545.47L448.81 545.43L448.94 545.30L449.07 545.43L449.20 545.70L449.33 545.88L449.46 545.76L449.59 545.68L449.72 545.88L449.85 546.03L449.97 546.16L450.10 546.00L450.23 545.81L450.36 545.98L451.13 545.88L451.26 545.71L451.39 545.82L451.52 546.06L451.65 546.15L451.78 546.02L452.16 546.25L452.42 546.20L452.55 546.00L452.68 545.87L452.81 546.10L452.94 545.92L453.07 545.76L453.19 546.04L453.32 546.13L453.45 545.88L453.71 545.89L453.84 546.13L453.97 545.94L454.10 545.80L454.22 545.72L454.35 546.01L454.48 546.12L454.61 545.85L454.74 545.71L454.87 545.61L455.00 545.81L455.25 545.87L455.38 546.02L455.51 545.76L455.64 545.93L455.77 545.75L455.90 545.87L456.03 545.64L456.16 545.62L456.29 545.37L456.41 545.42L456.54 545.25L456.67 545.38L456.80 545.26L456.93 545.28L457.06 545.42L457.19 545.54L457.44 545.65L457.57 545.47L457.83 545.58L457.96 545.26L458.09 545.31L458.22 545.11L458.35 545.45L458.47 545.67L458.73 545.64L458.86 545.77L458.99 545.73L459.12 545.86L459.25 545.81L459.38 545.68L459.51 545.88L459.63 545.71L459.76 545.71L459.89 545.84L460.28 545.83L460.41 546.07L460.66 546.19L460.79 545.95L461.05 546.09L461.18 546.16L461.31 545.91L461.44 546.06L461.69 546.28L461.82 545.97L461.95 546.11L462.08 546.14L462.21 545.90L462.34 545.99L462.47 545.83L462.60 546.02L462.98 546.14L463.11 545.87L463.50 545.83L463.63 546.09L463.76 545.92L463.88 545.92L464.01 546.08L464.27 546.20L464.40 546.16L464.53 545.99L464.66 546.12L465.17 546.04L465.30 545.91L465.43 545.94L465.56 545.81L465.82 545.66L466.07 545.60L466.20 545.39L466.33 545.56L466.46 545.52L466.59 545.24L466.72 545.25L466.85 545.11L466.98 545.08L467.10 545.27L467.23 545.34L467.36 545.50L467.62 545.32L467.75 545.15L468.13 545.10L468.26 545.48L468.65 545.39L468.78 545.71L469.04 545.66L469.17 545.83L469.29 545.85L469.42 545.97L469.55 545.76L469.68 545.81L469.81 545.99L470.07 545.85L470.20 545.94L470.32 545.81L471.23 545.69L471.35 545.92L471.61 545.88L471.74 546.04L471.87 545.86L472.00 545.77L472.13 546.06L472.26 545.90L472.39 545.78L472.51 545.95L472.64 545.95L472.77 545.78L473.16 545.81L473.29 545.94L473.42 545.76L473.54 545.72L473.67 546.00L473.80 546.12L473.93 546.24L474.06 546.21L474.19 545.93L474.32 545.80L474.96 545.84L475.09 546.07L475.22 545.90L475.35 545.88L475.48 545.73L475.61 545.99L475.99 546.14L476.12 546.26L476.25 546.27L476.38 546.03L476.51 546.07L476.64 545.84L476.76 546.00L477.02 546.12L477.15 545.88L477.67 545.94L477.79 546.10L477.92 545.92L478.31 545.91L478.44 546.03L478.83 545.84L478.95 545.95L479.08 546.08L479.34 546.03L479.47 545.84L479.60 545.59L479.86 545.45L479.98 545.59L480.11 545.81L480.37 545.87L480.50 545.63L480.63 545.32L480.89 545.31L481.01 544.97L481.14 544.65L481.27 543.59L481.40 541.93L481.53 539.80L481.66 536.92L481.79 533.27L481.92 529.42L482.05 526.38L482.17 524.55L482.30 524.60L482.43 525.92L482.56 527.83L482.69 528.92L482.82 530.01L483.08 529.92L483.20 529.25L483.33 528.77L483.46 528.46L483.59 527.37L483.72 526.32L483.85 524.49L483.98 523.04L484.11 522.05L484.23 522.47L484.36 524.33L484.49 527.68L484.62 531.37L484.75 535.01L484.88 538.05L485.01 540.67L485.14 542.08L485.27 542.79L485.39 543.17L485.52 543.38L485.65 543.20L485.78 543.36L485.91 543.43L486.04 543.06L486.17 542.79L486.55 542.60L486.68 542.73L486.81 542.93L486.94 543.02L487.07 542.89L487.97 542.84L488.10 543.01L488.36 543.09L488.49 543.41L488.61 543.29L488.74 543.05L488.87 542.77L489.00 542.12L489.13 540.15L489.26 536.75L489.39 531.19L489.52 524.25L489.64 517.83L489.77 515.37L489.90 516.94L490.03 521.41L490.16 526.60L490.29 532.28L490.42 536.53L490.55 539.49L490.67 541.36L490.80 542.64L490.93 543.36L491.06 543.57L491.32 543.45L491.45 543.29L491.58 543.48L491.71 543.45L491.83 543.71L491.96 543.53L492.09 543.23L492.22 543.33L492.35 543.07L492.74 543.06L492.86 543.50L493.25 543.44L493.38 543.84L493.51 544.15L493.64 544.22L493.77 543.95L493.89 544.33L494.28 544.38L494.41 543.89L494.54 543.57L494.67 542.98L494.80 542.59L494.93 541.72L495.05 541.04L495.18 539.81L495.31 538.76L495.44 537.72L495.57 537.19L495.70 537.04L495.83 537.33L495.96 537.32L496.08 537.58L496.21 538.12L496.34 538.81L496.47 539.59L496.60 539.81L496.73 540.44L496.86 540.88L496.99 541.33L497.11 541.71L497.24 542.31L497.37 542.89L497.50 543.29L497.63 543.55L497.89 543.60L498.02 544.08L498.27 543.97L498.40 544.15L498.53 544.11L498.66 544.41L498.79 544.44L498.92 544.26L499.05 544.47L499.18 544.30L499.30 544.55L499.43 544.51L499.56 544.28L499.82 544.13L499.95 544.45L500.08 544.21L500.33 544.19L500.46 543.91L500.59 543.87L500.72 544.00L500.98 544.08L501.11 543.77L501.37 543.70L501.49 543.46L501.75 543.51L501.88 543.23L502.01 543.11L502.14 542.89L502.27 542.75L502.52 542.69L502.65 542.88L502.78 543.12L502.91 543.43L503.04 543.62L503.30 543.44L503.43 543.53L503.55 543.67L503.68 544.07L503.81 544.40L503.94 544.50L504.07 544.30L504.20 544.44L504.33 544.69L504.46 544.58L504.59 544.80L504.71 544.53L504.97 544.44L505.10 544.21L505.23 544.33L505.36 544.57L505.49 544.64L505.62 544.43L505.74 544.69L505.87 544.74L506.00 544.62L506.13 544.77L506.26 544.62L506.39 544.38L506.52 544.16L506.65 544.48L506.77 544.32L507.03 544.31L507.16 544.56L507.29 544.32L507.42 544.29L507.55 544.16L507.68 544.27L507.81 543.96L507.93 544.08L508.06 544.02L508.19 543.82L508.32 544.08L508.45 543.91L508.58 543.79L508.71 543.68L508.84 543.81L508.96 543.61L509.09 543.86L509.22 543.73L509.35 543.62L509.48 543.87L509.61 543.62L509.74 543.66L509.87 543.44L510.25 543.59L510.38 543.54L510.51 543.74L510.64 543.96L510.77 543.78L510.90 543.91L511.15 543.82L511.28 543.95L511.54 544.07L511.80 543.86L511.93 544.20L512.06 544.43L512.18 544.54L512.31 544.35L512.57 544.30L512.70 544.53L512.96 544.51L513.09 544.26L513.21 544.47L513.34 544.32L513.60 544.19L513.73 544.30L513.86 544.13L513.99 544.31L514.25 544.24L514.37 544.48L514.50 544.56L514.63 544.42L514.76 544.26L515.15 544.21L515.28 544.02L515.40 544.03L515.53 543.86L515.79 544.05L515.92 544.41L516.31 544.55L516.43 544.69L516.56 544.33L516.69 544.20L516.82 544.26L516.95 543.85L517.08 544.10L517.34 543.97L517.59 544.12L517.72 544.11L517.85 543.86L517.98 543.46L518.11 543.21L518.24 543.07L518.37 543.16L518.50 542.90L518.75 542.87L518.88 542.69L519.01 542.28L519.14 542.13L519.27 541.70L519.40 540.64L519.53 539.73L519.65 538.60L519.78 536.58L519.91 533.44L520.04 528.09L520.17 519.54L520.30 506.93L520.43 490.75L520.56 470.98L520.69 449.25L520.81 427.91L520.94 410.67L521.07 400.75L521.20 399.83L521.33 408.70L521.46 424.87L521.59 444.89L521.72 464.94L521.84 482.63L521.97 495.83L522.10 503.50L522.23 503.74L522.36 495.22L522.49 477.25L522.62 449.85L522.75 415.78L522.87 380.16L523.00 350.39L523.13 335.39L523.26 334.45L523.39 334.30L523.52 333.92L523.65 333.70L523.78 333.74L523.91 333.22L524.03 333.57L524.16 347.92L524.29 377.17L524.42 413.19L524.55 448.15L524.68 477.34L524.81 498.70L524.94 512.63L525.06 521.59L525.19 526.22L525.32 528.02L525.45 526.93L525.58 522.91L525.71 516.83L525.84 509.34L525.97 500.94L526.09 493.72L526.22 488.41L526.35 486.17L526.48 486.79L526.61 488.65L526.74 489.61L526.87 487.19L527.00 479.28L527.13 467.45L527.25 456.01L527.38 452.05L527.51 457.33L527.64 468.78L527.77 482.87L527.90 496.14L528.03 505.53L528.16 511.83L528.28 514.92L528.41 516.27L528.54 517.14L528.67 518.62L528.80 519.59L528.93 520.83L529.06 522.17L529.19 522.96L529.31 524.08L529.44 525.26L529.57 526.23L529.70 526.44L529.83 526.54L529.96 526.77L530.09 527.24L530.22 527.69L530.35 528.02L530.47 527.86L530.60 528.16L530.73 528.28L530.86 528.43L530.99 529.01L531.12 528.93L531.25 529.24L531.38 529.35L531.50 529.74L531.63 530.06L531.89 529.96L532.02 530.15L532.15 530.09L532.28 529.75L532.53 529.59L532.66 529.28L532.79 529.15L532.92 529.10L533.05 529.34L533.18 529.35L533.31 529.52L533.44 530.16L533.57 530.74L533.69 531.22L533.82 532.01L533.95 532.68L534.08 533.01L534.21 533.21L534.34 533.64L534.47 533.64L534.60 534.02L534.72 534.38L534.85 534.63L534.98 534.46L535.11 534.63L535.24 534.90L535.37 535.30L535.50 535.18L535.63 535.37L535.75 535.71L535.88 535.98L536.01 535.96L536.14 536.25L536.27 536.53L536.40 536.27L536.53 536.51L536.66 536.27L536.91 536.14L537.04 536.48L537.17 536.68L537.30 536.63L537.43 536.84L537.56 537.00L537.69 537.21L537.82 537.09L537.94 536.94L538.07 536.90L538.20 537.17L538.33 536.95L538.46 537.16L538.59 537.48L538.85 537.68L538.97 537.32L539.10 537.58L539.62 537.52L539.75 537.38L539.88 537.81L540.01 538.01L540.39 537.90L540.52 538.07L540.65 538.33L540.78 538.49L540.91 538.54L541.04 538.31L541.16 538.37L541.29 538.57L541.42 538.39L541.55 538.68L541.68 538.87L541.81 539.01L542.07 538.99L542.19 539.14L542.32 538.90L542.45 538.67L542.58 538.51L542.71 538.97L542.84 538.88L542.97 539.04L543.10 539.07L543.23 539.31L543.35 539.49L543.48 539.42L543.61 539.14L543.74 539.28L543.87 539.20L544.00 539.44L544.26 539.61L544.38 539.52L544.51 539.32L544.64 539.76L544.77 539.49L544.90 539.57L545.03 539.73L545.16 539.97L545.29 539.90L545.41 540.13L545.54 540.29L545.67 540.16L545.80 539.97L545.93 540.05L546.06 540.28L546.19 540.02L546.57 540.06L546.70 540.24L546.83 540.03L546.96 540.30L547.09 540.21L547.22 540.03L547.35 540.39L547.48 540.13L547.60 540.23L547.73 540.36L547.99 540.52L548.12 540.65L548.25 540.45L548.38 540.19L548.63 540.20L548.76 540.54L548.89 540.68L549.02 540.83L549.15 540.57L549.28 540.68L549.41 540.86L549.54 540.73L549.67 540.62L549.79 540.75L549.92 540.49L550.05 540.79L550.18 541.00L550.31 540.92L550.44 541.05L550.57 540.98L550.70 541.17L550.95 541.22L551.08 540.82L551.34 540.71L551.47 540.88L551.60 541.11L551.73 540.85L551.85 541.15L551.98 541.15L552.11 540.94L552.24 541.16L552.37 541.27L552.50 540.95L552.63 540.99L552.76 541.13L552.89 541.10L553.01 541.22L553.14 541.00L553.27 540.77L553.40 540.30L553.53 538.31L553.66 533.69L553.79 525.99L553.92 516.79L554.04 512.39L554.17 516.97L554.30 526.05L554.43 534.18L554.56 538.36L554.69 540.24L554.82 540.77L554.95 541.05L555.07 541.29L555.20 541.20L555.33 541.05L555.46 541.04L555.59 541.21L555.72 541.30L555.85 541.47L555.98 541.32L556.11 541.61L556.23 541.67L556.36 541.45L556.49 541.42L556.62 541.70L556.75 541.72L556.88 541.52L557.01 541.74L557.14 541.57L557.26 541.36L557.39 541.41L557.52 541.70L557.65 541.56L557.78 541.39L557.91 541.36L558.04 541.17L558.17 541.48L558.29 541.76L558.42 541.55L558.55 541.82L558.68 541.79L558.81 541.66L558.94 541.88L559.33 541.97L559.45 541.71L559.58 541.55L559.84 541.66L559.97 541.38L560.10 541.38L560.23 541.62L560.36 541.84L560.48 541.97L560.61 541.84L560.74 541.84L560.87 541.71L561.00 541.87L561.13 541.73L561.26 541.65L561.39 541.46L561.51 541.56L561.64 541.81L561.77 541.65L561.90 541.38L562.03 541.59L562.16 541.72L562.29 541.60L562.42 541.56L562.55 541.75L562.67 541.53L562.80 541.58L562.93 541.71L563.06 541.60L563.19 541.82L563.32 541.86L563.45 541.59L563.58 541.38L563.70 541.65L563.83 541.48L563.96 541.61L564.09 541.69L564.22 541.94L564.48 541.80L564.61 541.51L565.12 541.38L565.25 541.58L565.38 541.65L565.51 541.89L565.64 541.63L565.77 541.87L565.89 542.07L566.02 542.02L566.15 541.73L566.28 541.54L566.41 541.68L566.54 541.75L566.67 541.94L566.80 541.82L566.92 541.71L567.05 541.98L567.18 541.63L567.44 541.47L567.57 541.69L567.70 541.43L567.95 541.49L568.08 541.31L568.21 541.47L568.34 541.75L568.47 541.82L568.60 541.53L568.73 541.29L568.86 541.04L568.99 541.07L569.11 540.65L569.24 540.47L569.37 539.80L569.50 539.53L569.63 538.75L569.89 538.74L570.02 539.14L570.14 539.59L570.27 540.41L570.40 541.09L570.53 541.17L570.66 541.41L570.79 541.76L570.92 541.65L571.05 541.96L571.17 541.66L571.30 541.45L571.43 541.44L571.56 541.74L571.69 541.69L571.82 541.83L571.95 541.55L572.08 541.87L572.21 541.63L572.33 541.89L572.59 541.87L572.72 541.59L572.85 541.91L572.98 541.73L573.11 541.87L573.24 541.81L573.36 541.49L573.49 541.06L573.62 540.76L573.75 540.34L573.88 539.97L574.01 539.49L574.14 538.61L574.27 538.29L574.39 538.66L574.52 539.06L574.65 539.90L574.78 540.77L574.91 540.99L575.04 541.35L575.43 541.37L575.55 541.72L575.68 541.95L575.81 541.77L575.94 541.71L576.07 541.54L576.20 541.71L576.33 541.56L576.46 541.41L576.58 541.61L576.71 541.45L576.97 541.35L577.10 541.49L577.23 541.65L577.36 541.64L577.49 541.96L577.74 541.96L577.87 541.68L578.00 541.21L578.13 540.78L578.26 540.68L578.39 540.34L578.52 539.59L578.65 539.19L578.77 538.90L578.90 538.93L579.03 539.43L579.16 540.24L579.29 540.71L579.42 540.93L579.55 541.22L579.68 541.30L579.80 541.59L579.93 541.63L580.06 541.47L580.19 541.53L580.32 541.75L580.45 541.68L580.58 541.89L580.71 541.99L580.83 541.82L580.96 541.81L581.09 541.64L581.22 541.70L581.35 541.88L581.48 541.76L581.61 541.99L581.74 541.80L581.87 541.91L581.99 541.64L582.12 541.42L582.25 541.47L582.38 541.21L582.64 541.12L582.77 541.00L582.90 540.68L583.02 540.24L583.15 540.01L583.28 540.09L583.41 540.37L583.54 540.40L583.67 540.66L583.80 540.85L583.93 541.07L584.05 541.07L584.18 541.38L584.31 541.63L584.44 541.71L584.57 541.91L584.70 542.10L584.83 542.26L585.09 542.29L585.21 542.01L585.34 541.96L585.47 542.17L585.60 541.85L585.99 541.96L586.12 541.80L586.24 542.14L586.37 541.84L586.50 541.97L586.63 542.17L587.02 541.97L587.15 542.20L587.79 542.34L587.92 541.94L588.05 541.76L588.18 541.50L588.31 541.29L588.43 540.89L588.56 540.20L588.69 539.08L588.82 537.50L588.95 535.27L589.08 533.05L589.21 531.07L589.34 529.84L589.46 529.70L589.59 531.17L589.72 533.26L589.85 535.65L589.98 537.89L590.11 539.55L590.24 540.43L590.37 540.98L590.49 541.16L590.62 541.45L590.75 541.34L590.88 540.78L591.01 540.75L591.14 540.04L591.27 539.47L591.40 538.57L591.53 537.56L591.65 536.72L591.78 536.02L591.91 535.27L592.04 534.60L592.17 534.01L592.30 533.36L592.43 533.17L592.56 532.68L592.68 531.35L592.81 528.38L592.94 523.84L593.07 517.17L593.20 509.67L593.33 502.89L593.46 498.59L593.59 498.81L593.71 501.98L593.84 507.36L593.97 513.85L594.10 520.32L594.23 526.14L594.36 530.98L594.49 534.74L594.62 537.24L594.75 539.14L594.87 540.12L595.00 540.38L595.13 540.77L595.26 540.77L595.39 541.09L595.52 540.89L595.65 540.56L595.78 540.58L595.90 540.79L596.03 540.51L596.16 540.70L596.29 540.39L596.42 540.23L596.81 540.19L596.93 540.46L597.06 540.42L597.19 540.70L597.32 540.73L597.45 540.94L597.58 540.93L597.71 541.12L597.84 541.43L597.97 541.71L598.09 541.61L598.22 542.00L598.35 542.19L598.48 542.38L598.61 542.53L599.12 542.42L599.25 542.19L599.38 542.23L599.51 542.37L599.77 542.32L599.90 542.01L600.03 541.78L600.15 541.21L600.28 540.69L600.41 540.50L600.54 539.97L600.67 539.80L600.80 539.33L600.93 539.41L601.06 539.26L601.19 539.53L601.31 539.44L601.44 539.87L601.57 539.97L601.70 540.54L601.83 540.54L601.96 540.73L602.09 541.23L602.22 541.48L602.34 541.45L602.47 542.03L602.60 542.03L602.73 542.24L602.86 542.46L603.25 542.42L603.37 542.61L603.50 542.78L603.63 542.92L603.76 542.74L603.89 542.58L604.02 542.61L604.15 542.45L604.28 542.70L604.41 542.62L604.53 542.80L604.66 542.88L604.79 542.56L604.92 542.81L605.18 542.76L605.31 542.41L605.44 542.25L605.56 542.26L605.69 542.43L605.82 542.57L605.95 542.63L606.08 542.33L606.21 542.30L606.34 542.12L606.59 541.91L606.72 542.05L606.85 542.15L606.98 541.89L607.24 542.08L607.37 541.91L607.50 541.76L607.63 541.60L607.88 541.54L608.01 541.69L608.14 541.60L608.27 541.28L608.40 541.24L608.53 541.45L608.66 541.63L608.78 541.60L608.91 541.86L609.04 541.63L609.17 541.88L609.30 541.62L609.43 541.50L609.56 541.92L609.69 542.13L609.94 542.02L610.07 542.32L610.20 542.44L610.33 542.59L610.46 542.47L610.59 542.42L610.72 542.63L610.85 542.59L610.97 542.46L611.10 542.61L611.36 542.68L611.49 542.99L611.62 542.74L611.75 542.56L611.88 542.48L612.00 542.35L612.13 542.64L612.26 542.52L612.39 542.69L612.52 543.02L612.65 542.91L612.78 543.17L612.91 542.87L613.03 543.14L613.16 542.85L613.29 542.63L613.42 542.47L613.55 542.68L613.94 542.62L614.07 542.80L614.19 542.57L614.32 542.25L614.45 542.35L614.58 542.48L614.71 542.21L615.10 542.20L615.22 541.84L615.35 541.51L615.48 541.30L615.61 541.04L615.74 540.68L615.87 540.38L616.00 540.36L616.13 540.20L616.25 539.76L616.38 539.54L616.51 539.15L616.64 538.94L616.77 538.61L616.90 538.22L617.03 537.85L617.16 537.93L617.29 537.80L617.54 537.74L617.67 537.61L617.80 537.11L617.93 536.90L618.06 536.52L618.19 535.90L618.32 535.21L618.44 535.00L618.57 535.04L618.70 535.29L618.83 536.03L618.96 536.53L619.09 537.21L619.22 538.07L619.35 539.11L619.47 539.46L619.60 540.24L619.73 540.82L619.86 541.13L619.99 541.10L620.12 541.34L620.25 541.38L620.38 541.20L620.89 540.97L621.02 540.75L621.15 540.72L621.28 540.92L621.41 541.02L621.54 540.64L621.66 540.84L621.92 540.85L622.05 540.67L622.18 540.65L622.31 540.77L622.44 541.13L622.57 541.01L622.69 541.29L622.82 541.17L622.95 541.36L623.08 541.52L623.21 541.33L623.34 541.67L623.47 541.80L623.60 541.78L623.73 542.02L623.85 542.04L623.98 542.18L624.11 542.07L624.24 542.37L624.37 542.27L624.50 542.70L624.76 542.63L624.88 542.90L625.01 543.08L625.14 543.29L625.27 543.01L625.40 542.94L625.53 543.06L625.79 543.05L625.91 543.38L626.17 543.26L626.43 543.41L626.56 543.47L626.69 543.73L627.07 543.88L627.20 543.58L627.33 543.73L627.46 543.56L627.72 543.44L627.85 543.56L627.98 543.59L628.10 543.83L628.23 543.75L628.36 543.44L628.49 543.21L628.62 543.42L628.75 543.72L628.88 543.43L629.01 543.40L629.13 543.63L629.26 543.43L629.39 543.30L629.65 543.09L629.78 543.30L629.91 543.26L630.04 543.41L630.42 543.52L630.55 543.32L630.68 543.44L630.81 543.73L630.94 543.67L631.07 543.87L631.20 544.05L631.45 544.07L631.58 543.92L631.71 544.03L631.84 543.70L631.97 543.46L632.10 543.78L632.23 543.98L632.35 543.79L632.48 543.97L632.61 543.61L632.74 543.87L633.13 543.87L633.26 543.64L633.39 543.44L633.64 543.42L633.77 543.62L633.90 543.60L634.03 543.87L634.29 543.96L634.42 543.75L634.54 543.99L634.93 544.03L635.06 543.81L635.19 543.78L635.32 544.01L635.57 544.08L635.70 543.89L635.83 543.99L635.96 543.79L636.09 543.60L636.22 543.29L636.35 543.04L636.48 542.55L636.61 542.23L636.73 541.94L636.86 541.13L636.99 540.34L637.12 539.88L637.25 539.70L637.38 539.65L637.51 539.86L637.64 540.16L637.76 540.76L637.89 541.27L638.02 541.69L638.15 542.07L638.28 542.83L638.41 543.41L638.54 543.48L638.67 543.66L638.79 543.53L638.92 543.55L639.05 543.86L639.18 543.52L639.31 543.33L639.44 543.50L639.57 543.51L639.70 543.37L639.83 543.62L639.95 543.83L640.08 543.68L640.21 543.63L640.34 543.35L640.47 543.27L640.60 543.52L640.73 543.35L640.86 543.34L640.98 543.16L641.11 543.29L641.24 543.29L641.37 543.10L641.50 543.39L641.63 543.61L641.89 543.72L642.01 543.85L642.14 543.70L642.27 543.64L642.40 543.35L642.53 543.49L642.79 543.30L643.05 543.19L643.17 543.43L643.30 543.29L643.43 543.32L643.56 543.48L643.95 543.60L644.08 543.37L644.20 543.50L644.33 543.25L644.46 543.05L644.72 542.88L644.85 543.00L644.98 542.68L645.11 542.83L645.23 542.74L645.36 542.31L645.49 541.88L645.62 541.27L645.75 540.66L645.88 539.87L646.01 538.54L646.14 536.87L646.27 534.39L646.39 531.61L646.52 528.68L646.65 525.25L646.78 520.88L646.91 516.76L647.04 512.28L647.17 507.84L647.30 503.57L647.42 499.62L647.55 496.84L647.68 494.98L647.81 494.28L647.94 494.65L648.07 496.04L648.20 498.04L648.33 501.34L648.45 504.59L648.58 508.34L648.71 512.37L648.84 516.36L648.97 520.05L649.10 523.66L649.23 526.88L649.36 529.98L649.49 532.60L649.61 534.77L649.74 536.38L649.87 537.93L650.00 539.23L650.13 540.01L650.26 540.45L650.39 541.32L650.52 541.98L650.64 541.99L650.77 542.14L650.90 542.43L651.03 542.70L651.29 542.79L651.42 542.66L651.55 542.24L651.67 541.72L651.80 540.96L651.93 539.99L652.06 539.00L652.19 538.33L652.32 537.47L652.45 537.46L652.58 537.61L652.71 538.18L652.83 538.78L652.96 539.53L653.09 540.36L653.22 541.18L653.35 541.87L653.48 542.05L653.61 542.47L653.74 542.65L654.12 542.66L654.25 542.44L654.38 542.36L654.51 542.49L654.64 542.20L654.77 542.06L655.02 541.97L655.15 542.15L655.28 541.99L655.41 541.81L655.54 542.00L655.80 542.20L656.05 542.26L656.18 542.53L656.31 542.85L656.44 543.06L656.57 542.97L656.70 542.77L656.83 542.69L656.96 542.93L657.08 543.06L657.21 543.30L657.34 543.10L657.47 543.26L657.60 543.24L657.73 543.45L657.86 543.18L657.99 543.49L658.11 543.31L658.24 543.26L658.37 543.41L658.50 543.61L658.63 543.47L658.76 543.21L658.89 543.15L659.02 543.39L659.15 543.28L659.27 543.08L659.66 542.98L659.79 543.30L659.92 543.50L660.05 543.34L660.18 543.60L660.30 543.30L660.43 543.10L660.56 543.04L660.69 543.32L660.82 543.59L661.08 543.67L661.21 543.40L661.33 543.30L661.46 543.52L661.59 543.38L661.72 543.41L661.85 543.28L661.98 543.22L662.11 543.55L662.24 543.51L662.37 543.28L662.62 543.34L662.75 543.10L663.01 543.21L663.14 543.36L663.40 543.35L663.52 543.10L663.65 543.01L663.78 543.17L664.17 543.04L664.55 543.14L664.68 542.76L664.81 542.83L664.94 542.58L665.07 542.43L665.20 542.37L665.33 542.22L665.46 542.47L665.59 542.74L665.71 542.50L665.84 542.85L665.97 542.62L666.10 542.76L666.23 542.68L666.36 542.93L666.49 542.98L666.62 542.80L666.74 542.64L667.00 542.64L667.13 543.00L667.26 542.89L667.39 542.71L667.52 542.94L667.65 542.97L667.77 543.30L668.03 543.34L668.16 543.21L668.42 543.22L668.55 543.38L669.06 543.40L669.19 543.28L669.32 543.15L669.45 543.37L669.58 543.38L669.71 543.68L669.84 543.83L670.09 543.65L670.22 543.85L670.35 543.76L670.48 543.89L670.61 543.62L670.74 543.60L670.87 543.80L671.12 543.81L671.25 543.42L671.38 543.67L671.51 543.51L671.64 543.78L671.77 543.95L671.90 543.58L672.03 543.59L672.15 543.30L672.28 543.67L672.41 543.81L672.54 543.64L672.67 543.40L672.80 543.26L672.93 543.48L673.06 543.61L673.44 543.56L673.57 543.29L673.70 543.12L673.83 543.24L673.96 543.59L674.09 543.81L674.21 543.51L674.34 543.51L674.47 543.29L674.73 543.28L674.86 543.66L675.12 543.78L675.25 543.92L675.37 543.95L675.50 543.62L675.63 543.44L675.76 543.34L675.89 543.18L676.15 543.25L676.28 543.56L676.53 543.47L676.66 543.67L676.79 543.40L676.92 543.47L677.05 543.75L677.18 543.75L677.31 543.42L677.56 543.55" stroke="#0c0c0c" stroke-width="1.45" fill="none" stroke-linejoin="miter" stroke-miterlimit="3"/>
<text class="s" x="146.5" y="546.2" font-size="8.3" text-anchor="middle" textLength="23.0" lengthAdjust="spacingAndGlyphs">10.04</text>
<text class="s" x="197.1" y="547.4" font-size="8.3" text-anchor="middle" textLength="23.0" lengthAdjust="spacingAndGlyphs">17.89</text>
<text class="s" x="226.8" y="547.4" font-size="8.3" text-anchor="middle" textLength="23.0" lengthAdjust="spacingAndGlyphs">22.47</text>
<text class="s" x="262.7" y="546.8" font-size="8.3" text-anchor="middle" textLength="23.0" lengthAdjust="spacingAndGlyphs">28.10</text>
<text class="s" x="311.9" y="542.5" font-size="8.3" text-anchor="middle" textLength="23.0" lengthAdjust="spacingAndGlyphs">35.77</text>
<text class="s" x="357.5" y="544.3" font-size="8.3" text-anchor="middle" textLength="23.0" lengthAdjust="spacingAndGlyphs">42.85</text>
<text class="s" x="394.8" y="518.9" font-size="8.3" text-anchor="middle" textLength="23.0" lengthAdjust="spacingAndGlyphs">48.56</text>
<text class="s" x="430.5" y="503.3" font-size="8.3" text-anchor="middle" textLength="23.0" lengthAdjust="spacingAndGlyphs">54.14</text>
<text class="s" x="489.6" y="513.3" font-size="8.3" text-anchor="middle" textLength="23.0" lengthAdjust="spacingAndGlyphs">63.28</text>
<text class="s" x="523.2" y="332.0" font-size="8.3" text-anchor="middle" textLength="23.0" lengthAdjust="spacingAndGlyphs">68.49</text>
<text class="s" x="553.8" y="510.9" font-size="8.3" text-anchor="middle" textLength="23.0" lengthAdjust="spacingAndGlyphs">73.26</text>
<text class="s" x="571.1" y="537.9" font-size="8.3" text-anchor="middle" textLength="23.0" lengthAdjust="spacingAndGlyphs">75.95</text>
<text class="s" x="593.6" y="497.0" font-size="8.3" text-anchor="middle" textLength="23.0" lengthAdjust="spacingAndGlyphs">79.39</text>
<text class="s" x="618.3" y="533.8" font-size="8.3" text-anchor="middle" textLength="23.0" lengthAdjust="spacingAndGlyphs">83.29</text>
<text class="s" x="647.8" y="492.2" font-size="8.3" text-anchor="middle" textLength="23.0" lengthAdjust="spacingAndGlyphs">87.82</text>
</svg>
</body>
</html>
